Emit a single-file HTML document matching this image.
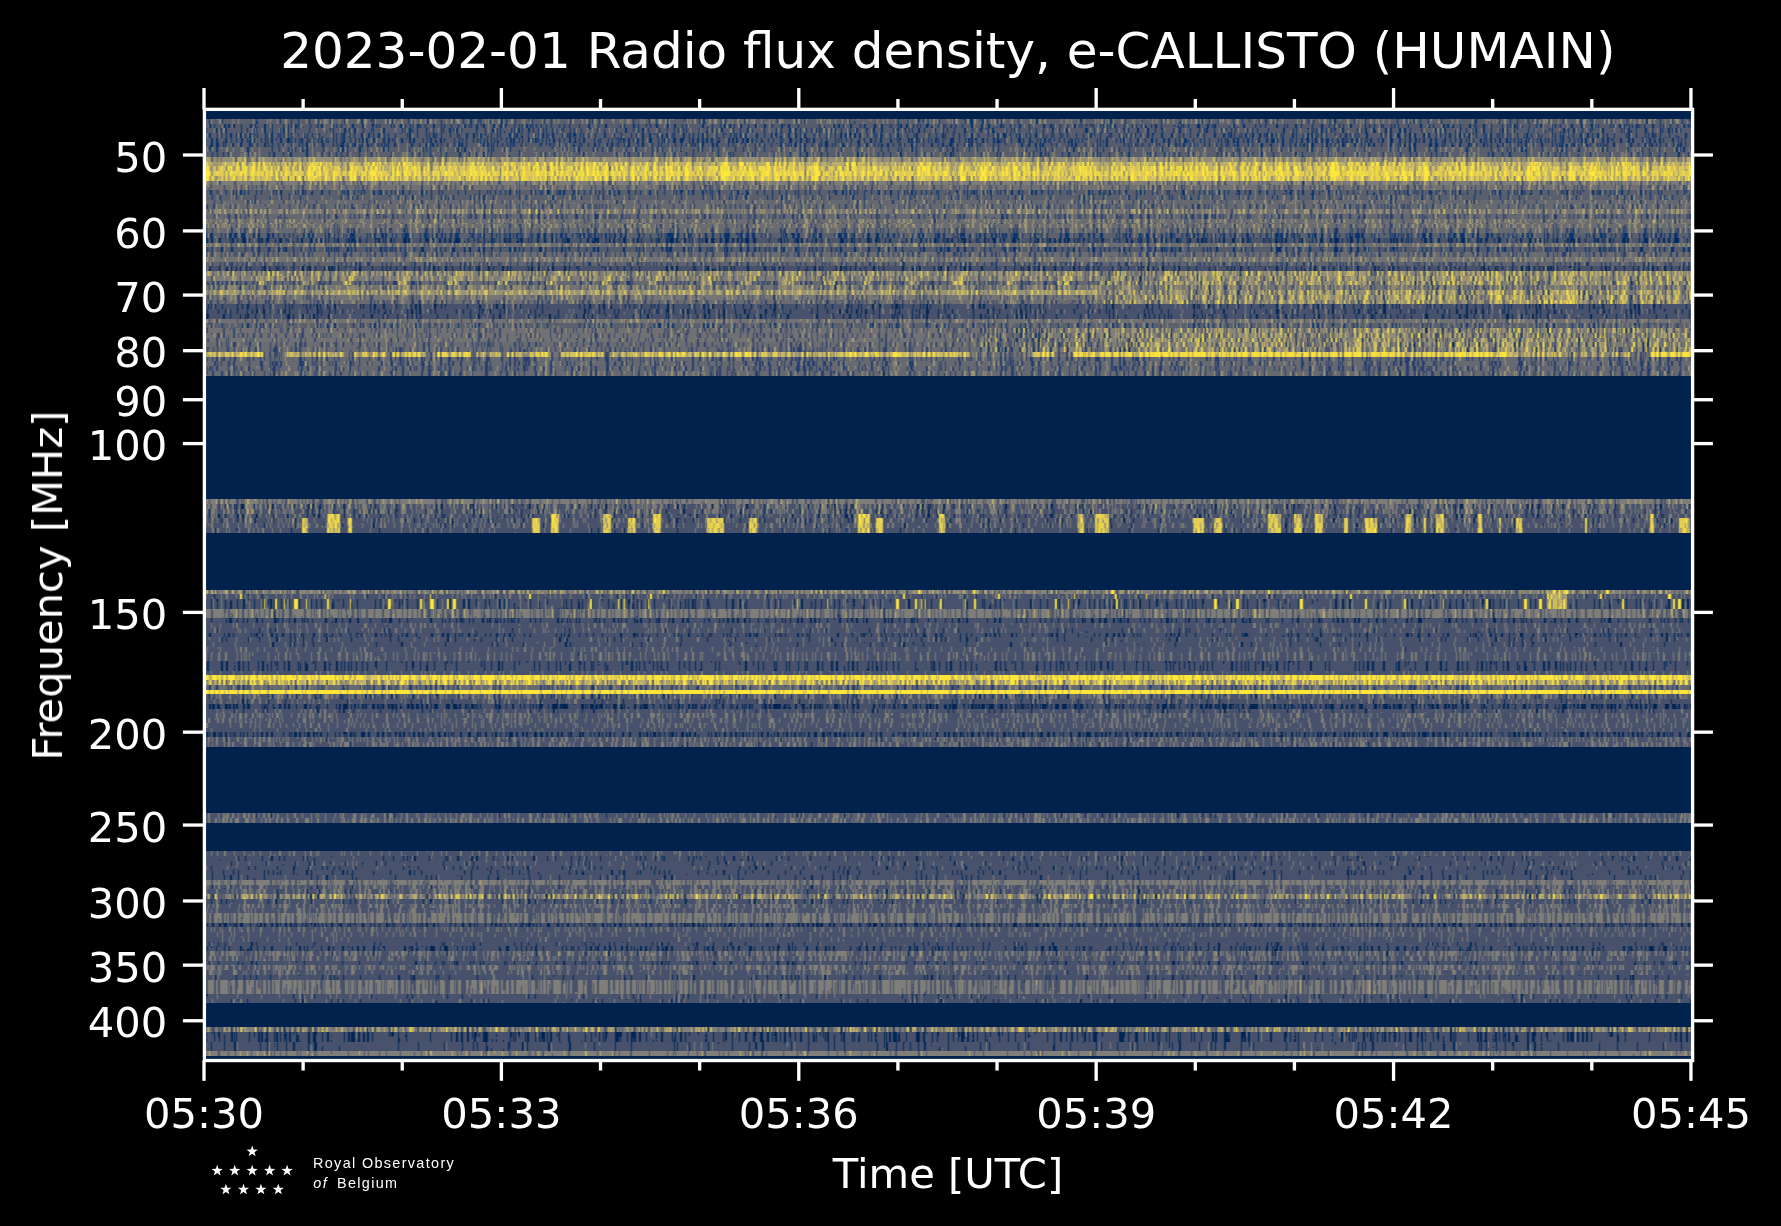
<!DOCTYPE html>
<html><head><meta charset="utf-8"><title>e-CALLISTO HUMAIN 2023-02-01</title>
<style>html,body{margin:0;padding:0;background:#000;}body{width:1781px;height:1226px;overflow:hidden;}svg{display:block;}</style>
</head><body>
<svg width="1781" height="1226" viewBox="0 0 1781 1226">
<defs><filter id="sp" filterUnits="userSpaceOnUse" x="200" y="109.35" width="2520" height="951.2" color-interpolation-filters="sRGB">
<feTurbulence type="fractalNoise" baseFrequency="0.42 0" numOctaves="3" seed="7" result="t"/>
<feColorMatrix in="t" type="matrix" values="1 0 0 0 0 1 0 0 0 0 1 0 0 0 0 0 0 0 0 1" result="g"/>
<feColorMatrix in="SourceGraphic" type="matrix" values="0 0 0 1 0 0 0 0 0 0.5 0 0 0 0 0 0 0 0 0 1" result="dm"/>
<feDisplacementMap in="g" in2="dm" scale="2000" xChannelSelector="R" yChannelSelector="G" result="n0"/>
<feTurbulence type="fractalNoise" baseFrequency="0.42 0.015" numOctaves="2" seed="11" result="t2"/>
<feColorMatrix in="t2" type="matrix" values="1 0 0 0 0 1 0 0 0 0 1 0 0 0 0 0 0 0 0 1" result="g2"/>
<feComposite in="n0" in2="g2" operator="arithmetic" k1="0" k2="0.75" k3="0.45" k4="-0.1" result="n"/>
<feColorMatrix in="SourceGraphic" type="matrix" values="0 1 0 0 0 0 1 0 0 0 0 1 0 0 0 0 0 0 0 1" result="amp"/>
<feColorMatrix in="SourceGraphic" type="matrix" values="0 0 1 0 0 0 0 1 0 0 0 0 1 0 0 0 0 0 0 1" result="bias"/>
<feComposite in="amp" in2="n" operator="arithmetic" k1="2.0" k2="-1.0" k3="0" k4="0.5" result="p1"/>
<feComposite in="p1" in2="bias" operator="arithmetic" k1="0" k2="1" k3="1" k4="-0.5" result="p2"/>
<feComponentTransfer in="p2" result="q"><feFuncR type="discrete" tableValues="0 0.25 0.5 0.75 1"/><feFuncG type="discrete" tableValues="0 0.25 0.5 0.75 1"/><feFuncB type="discrete" tableValues="0 0.25 0.5 0.75 1"/></feComponentTransfer>
<feColorMatrix in="SourceGraphic" type="matrix" values="1 0 0 0 0 1 0 0 0 0 1 0 0 0 0 0 0 0 0 1" result="mean"/>
<feComposite in="mean" in2="q" operator="arithmetic" k1="0" k2="1" k3="1" k4="-0.5" result="val"/>
<feComponentTransfer in="val" result="c"><feFuncR type="table" tableValues="0.000 0.000 0.000 0.018 0.103 0.154 0.195 0.231 0.264 0.295 0.324 0.353 0.381 0.408 0.435 0.462 0.489 0.518 0.548 0.578 0.609 0.640 0.672 0.704 0.736 0.769 0.803 0.836 0.871 0.906 0.941 0.978 0.996"/><feFuncG type="table" tableValues="0.135 0.158 0.179 0.199 0.220 0.242 0.264 0.286 0.308 0.330 0.351 0.373 0.395 0.417 0.440 0.462 0.485 0.508 0.532 0.556 0.580 0.604 0.629 0.655 0.681 0.707 0.734 0.761 0.790 0.818 0.848 0.877 0.909"/><feFuncB type="table" tableValues="0.305 0.358 0.415 0.441 0.436 0.430 0.426 0.423 0.423 0.424 0.426 0.430 0.436 0.443 0.451 0.462 0.471 0.473 0.472 0.469 0.464 0.457 0.448 0.437 0.424 0.409 0.390 0.369 0.343 0.313 0.276 0.228 0.218"/><feFuncA type="identity"/></feComponentTransfer>
<feConvolveMatrix in="c" order="3 1" kernelMatrix="0.2 0.6 0.2" divisor="1" preserveAlpha="true" edgeMode="duplicate" result="cb"/>
<feComponentTransfer in="SourceAlpha" result="mask"><feFuncA type="linear" slope="100" intercept="0"/></feComponentTransfer>
<feComposite in="cb" in2="mask" operator="in"/>
</filter><filter id="ga" x="-0.02" y="-0.02" width="1.04" height="1.04"><feOffset dx="0" dy="0"/></filter></defs>
<rect width="1781" height="1226" fill="#000"/>
<g filter="url(#sp)" shape-rendering="crispEdges">
<rect x="204.4" y="109.35" width="1488.2" height="4.76" fill="rgb(0,0,128)" fill-opacity="0.757"/><rect x="204.4" y="114.11" width="1488.2" height="4.76" fill="rgb(0,0,128)" fill-opacity="0.914"/><rect x="204.4" y="118.86" width="1488.2" height="4.76" fill="rgb(89,128,133)" fill-opacity="0.553"/><rect x="204.4" y="123.62" width="1488.2" height="4.76" fill="rgb(84,115,117)" fill-opacity="0.957"/><rect x="204.4" y="128.37" width="1488.2" height="4.76" fill="rgb(84,128,122)" fill-opacity="0.961"/><rect x="204.4" y="133.13" width="1488.2" height="4.76" fill="rgb(84,128,117)" fill-opacity="0.949"/><rect x="204.4" y="137.89" width="1488.2" height="4.76" fill="rgb(84,115,112)" fill-opacity="0.698"/><rect x="204.4" y="142.64" width="1488.2" height="4.76" fill="rgb(84,128,117)" fill-opacity="0.976"/><rect x="204.4" y="147.4" width="1488.2" height="4.76" fill="rgb(87,115,128)" fill-opacity="0.733"/><rect x="204.4" y="152.15" width="1488.2" height="4.76" fill="rgb(87,115,128)" fill-opacity="0.643"/><rect x="204.4" y="156.91" width="1488.2" height="4.76" fill="rgb(153,128,128)" fill-opacity="0.682"/><rect x="204.4" y="161.67" width="1488.2" height="4.76" fill="rgb(191,153,133)" fill-opacity="0.831"/><rect x="204.4" y="166.42" width="1488.2" height="4.76" fill="rgb(217,191,133)" fill-opacity="0.765"/><rect x="204.4" y="171.18" width="1488.2" height="4.76" fill="rgb(224,166,138)" fill-opacity="0.627"/><rect x="204.4" y="175.93" width="1488.2" height="4.76" fill="rgb(212,191,133)" fill-opacity="0.733"/><rect x="204.4" y="180.69" width="1488.2" height="4.76" fill="rgb(128,115,122)" fill-opacity="0.608"/><rect x="204.4" y="185.45" width="1488.2" height="4.76" fill="rgb(115,115,122)" fill-opacity="0.984"/><rect x="204.4" y="190.2" width="1488.2" height="4.76" fill="rgb(89,115,117)" fill-opacity="0.765"/><rect x="204.4" y="194.96" width="1488.2" height="4.76" fill="rgb(89,115,128)" fill-opacity="0.678"/><rect x="204.4" y="199.71" width="1488.2" height="4.76" fill="rgb(102,115,128)" fill-opacity="0.827"/><rect x="204.4" y="204.47" width="1488.2" height="4.76" fill="rgb(102,128,122)" fill-opacity="0.863"/><rect x="204.4" y="209.23" width="1488.2" height="4.76" fill="rgb(115,153,138)" fill-opacity="0.635"/><rect x="204.4" y="213.98" width="1488.2" height="4.76" fill="rgb(102,115,117)" fill-opacity="0.855"/><rect x="204.4" y="218.74" width="1488.2" height="4.76" fill="rgb(107,115,133)" fill-opacity="0.824"/><rect x="204.4" y="223.49" width="1488.2" height="4.76" fill="rgb(107,115,133)" fill-opacity="0.639"/><rect x="204.4" y="228.25" width="1488.2" height="4.76" fill="rgb(102,128,122)" fill-opacity="0.725"/><rect x="204.4" y="233.01" width="1488.2" height="4.76" fill="rgb(89,115,112)" fill-opacity="0.918"/><rect x="204.4" y="237.76" width="1488.2" height="4.76" fill="rgb(76,115,112)" fill-opacity="0.914"/><rect x="204.4" y="242.52" width="1488.2" height="4.76" fill="rgb(107,115,133)" fill-opacity="0.592"/><rect x="204.4" y="247.27" width="1488.2" height="4.76" fill="rgb(82,115,117)" fill-opacity="0.812"/><rect x="204.4" y="252.03" width="1488.2" height="4.76" fill="rgb(107,115,117)" fill-opacity="0.918"/><rect x="204.4" y="256.79" width="1488.2" height="4.76" fill="rgb(115,115,133)" fill-opacity="0.753"/><rect x="204.4" y="261.54" width="1488.2" height="4.76" fill="rgb(97,115,117)" fill-opacity="0.839"/><rect x="204.4" y="266.3" width="1488.2" height="4.76" fill="rgb(69,115,117)" fill-opacity="0.800"/><rect x="204.4" y="271.05" width="5.6" height="4.76" fill="rgb(128,191,133)" fill-opacity="0.631"/><rect x="210" y="271.05" width="7.52" height="4.76" fill="rgb(163,217,128)" fill-opacity="0.631"/><rect x="217.52" y="271.05" width="47.51" height="4.76" fill="rgb(128,191,133)" fill-opacity="0.631"/><rect x="265.03" y="271.05" width="11.33" height="4.76" fill="rgb(163,217,128)" fill-opacity="0.631"/><rect x="276.36" y="271.05" width="35.01" height="4.76" fill="rgb(128,191,133)" fill-opacity="0.631"/><rect x="311.37" y="271.05" width="11.46" height="4.76" fill="rgb(163,217,128)" fill-opacity="0.631"/><rect x="322.83" y="271.05" width="28.07" height="4.76" fill="rgb(128,191,133)" fill-opacity="0.631"/><rect x="350.9" y="271.05" width="7.95" height="4.76" fill="rgb(163,217,128)" fill-opacity="0.631"/><rect x="358.85" y="271.05" width="47.92" height="4.76" fill="rgb(128,191,133)" fill-opacity="0.631"/><rect x="406.77" y="271.05" width="7.17" height="4.76" fill="rgb(163,217,128)" fill-opacity="0.631"/><rect x="413.94" y="271.05" width="41.47" height="4.76" fill="rgb(128,191,133)" fill-opacity="0.631"/><rect x="455.41" y="271.05" width="9.79" height="4.76" fill="rgb(163,217,128)" fill-opacity="0.631"/><rect x="465.2" y="271.05" width="40.01" height="4.76" fill="rgb(128,191,133)" fill-opacity="0.631"/><rect x="505.21" y="271.05" width="10.67" height="4.76" fill="rgb(163,217,128)" fill-opacity="0.631"/><rect x="515.88" y="271.05" width="38.06" height="4.76" fill="rgb(128,191,133)" fill-opacity="0.631"/><rect x="553.94" y="271.05" width="9.85" height="4.76" fill="rgb(163,217,128)" fill-opacity="0.631"/><rect x="563.78" y="271.05" width="45.03" height="4.76" fill="rgb(128,191,133)" fill-opacity="0.631"/><rect x="608.81" y="271.05" width="7.94" height="4.76" fill="rgb(163,217,128)" fill-opacity="0.631"/><rect x="616.75" y="271.05" width="39.93" height="4.76" fill="rgb(128,191,133)" fill-opacity="0.631"/><rect x="656.68" y="271.05" width="7.13" height="4.76" fill="rgb(163,217,128)" fill-opacity="0.631"/><rect x="663.81" y="271.05" width="45.26" height="4.76" fill="rgb(128,191,133)" fill-opacity="0.631"/><rect x="709.07" y="271.05" width="11.36" height="4.76" fill="rgb(163,217,128)" fill-opacity="0.631"/><rect x="720.43" y="271.05" width="28.49" height="4.76" fill="rgb(128,191,133)" fill-opacity="0.631"/><rect x="748.92" y="271.05" width="11.5" height="4.76" fill="rgb(163,217,128)" fill-opacity="0.631"/><rect x="760.42" y="271.05" width="29.01" height="4.76" fill="rgb(128,191,133)" fill-opacity="0.631"/><rect x="789.43" y="271.05" width="12.92" height="4.76" fill="rgb(163,217,128)" fill-opacity="0.631"/><rect x="802.35" y="271.05" width="28.59" height="4.76" fill="rgb(128,191,133)" fill-opacity="0.631"/><rect x="830.93" y="271.05" width="12.24" height="4.76" fill="rgb(163,217,128)" fill-opacity="0.631"/><rect x="843.18" y="271.05" width="26.26" height="4.76" fill="rgb(128,191,133)" fill-opacity="0.631"/><rect x="869.44" y="271.05" width="8.28" height="4.76" fill="rgb(163,217,128)" fill-opacity="0.631"/><rect x="877.71" y="271.05" width="38.74" height="4.76" fill="rgb(128,191,133)" fill-opacity="0.631"/><rect x="916.46" y="271.05" width="11.58" height="4.76" fill="rgb(163,217,128)" fill-opacity="0.631"/><rect x="928.04" y="271.05" width="32.29" height="4.76" fill="rgb(128,191,133)" fill-opacity="0.631"/><rect x="960.33" y="271.05" width="10.27" height="4.76" fill="rgb(163,217,128)" fill-opacity="0.631"/><rect x="970.59" y="271.05" width="42.75" height="4.76" fill="rgb(128,191,133)" fill-opacity="0.631"/><rect x="1013.34" y="271.05" width="7.37" height="4.76" fill="rgb(163,217,128)" fill-opacity="0.631"/><rect x="1020.71" y="271.05" width="43.95" height="4.76" fill="rgb(128,191,133)" fill-opacity="0.631"/><rect x="1064.66" y="271.05" width="12.39" height="4.76" fill="rgb(163,217,128)" fill-opacity="0.631"/><rect x="1077.05" y="271.05" width="22.95" height="4.76" fill="rgb(128,191,133)" fill-opacity="0.631"/><rect x="1100" y="271.05" width="14.58" height="4.76" fill="rgb(110,217,133)" fill-opacity="0.631"/><rect x="1114.58" y="271.05" width="11.89" height="4.76" fill="rgb(163,217,128)" fill-opacity="0.631"/><rect x="1126.47" y="271.05" width="19.85" height="4.76" fill="rgb(110,217,133)" fill-opacity="0.631"/><rect x="1146.33" y="271.05" width="15.56" height="4.76" fill="rgb(128,217,133)" fill-opacity="0.631"/><rect x="1161.89" y="271.05" width="11.96" height="4.76" fill="rgb(163,217,128)" fill-opacity="0.631"/><rect x="1173.85" y="271.05" width="11.45" height="4.76" fill="rgb(128,217,133)" fill-opacity="0.631"/><rect x="1185.3" y="271.05" width="30.4" height="4.76" fill="rgb(143,217,133)" fill-opacity="0.631"/><rect x="1215.69" y="271.05" width="7.78" height="4.76" fill="rgb(163,217,128)" fill-opacity="0.631"/><rect x="1223.48" y="271.05" width="21.14" height="4.76" fill="rgb(143,217,133)" fill-opacity="0.631"/><rect x="1244.62" y="271.05" width="11.81" height="4.76" fill="rgb(127,217,133)" fill-opacity="0.631"/><rect x="1256.43" y="271.05" width="10.06" height="4.76" fill="rgb(163,217,128)" fill-opacity="0.631"/><rect x="1266.49" y="271.05" width="3.33" height="4.76" fill="rgb(127,217,133)" fill-opacity="0.631"/><rect x="1269.82" y="271.05" width="27.57" height="4.76" fill="rgb(128,217,133)" fill-opacity="0.631"/><rect x="1297.39" y="271.05" width="12.74" height="4.76" fill="rgb(157,217,133)" fill-opacity="0.631"/><rect x="1310.14" y="271.05" width="11.66" height="4.76" fill="rgb(163,217,128)" fill-opacity="0.631"/><rect x="1321.8" y="271.05" width="32.76" height="4.76" fill="rgb(157,217,133)" fill-opacity="0.631"/><rect x="1354.56" y="271.05" width="4.53" height="4.76" fill="rgb(122,217,133)" fill-opacity="0.631"/><rect x="1359.09" y="271.05" width="11.66" height="4.76" fill="rgb(163,217,128)" fill-opacity="0.631"/><rect x="1370.75" y="271.05" width="9.02" height="4.76" fill="rgb(122,217,133)" fill-opacity="0.631"/><rect x="1379.77" y="271.05" width="20.02" height="4.76" fill="rgb(141,217,133)" fill-opacity="0.631"/><rect x="1399.79" y="271.05" width="7.85" height="4.76" fill="rgb(163,217,128)" fill-opacity="0.631"/><rect x="1407.64" y="271.05" width="24.95" height="4.76" fill="rgb(141,217,133)" fill-opacity="0.631"/><rect x="1432.59" y="271.05" width="16.34" height="4.76" fill="rgb(159,217,133)" fill-opacity="0.631"/><rect x="1448.93" y="271.05" width="7.72" height="4.76" fill="rgb(163,217,128)" fill-opacity="0.631"/><rect x="1456.65" y="271.05" width="20.66" height="4.76" fill="rgb(159,217,133)" fill-opacity="0.631"/><rect x="1477.31" y="271.05" width="10.73" height="4.76" fill="rgb(146,217,133)" fill-opacity="0.631"/><rect x="1488.04" y="271.05" width="11.09" height="4.76" fill="rgb(163,217,128)" fill-opacity="0.631"/><rect x="1499.14" y="271.05" width="1.21" height="4.76" fill="rgb(146,217,133)" fill-opacity="0.631"/><rect x="1500.35" y="271.05" width="32.81" height="4.76" fill="rgb(146,217,133)" fill-opacity="0.631"/><rect x="1533.16" y="271.05" width="2.44" height="4.76" fill="rgb(138,217,133)" fill-opacity="0.631"/><rect x="1535.6" y="271.05" width="9.89" height="4.76" fill="rgb(163,217,128)" fill-opacity="0.631"/><rect x="1545.49" y="271.05" width="8.39" height="4.76" fill="rgb(138,217,133)" fill-opacity="0.631"/><rect x="1553.88" y="271.05" width="33.7" height="4.76" fill="rgb(158,217,133)" fill-opacity="0.631"/><rect x="1587.57" y="271.05" width="12.3" height="4.76" fill="rgb(163,217,128)" fill-opacity="0.631"/><rect x="1599.87" y="271.05" width="6.2" height="4.76" fill="rgb(158,217,133)" fill-opacity="0.631"/><rect x="1606.07" y="271.05" width="20.52" height="4.76" fill="rgb(135,217,133)" fill-opacity="0.631"/><rect x="1626.6" y="271.05" width="8.15" height="4.76" fill="rgb(163,217,128)" fill-opacity="0.631"/><rect x="1634.74" y="271.05" width="30.61" height="4.76" fill="rgb(146,217,133)" fill-opacity="0.631"/><rect x="1665.35" y="271.05" width="7.59" height="4.76" fill="rgb(163,217,128)" fill-opacity="0.631"/><rect x="1672.94" y="271.05" width="11.04" height="4.76" fill="rgb(146,217,133)" fill-opacity="0.631"/><rect x="1683.98" y="271.05" width="8.62" height="4.76" fill="rgb(129,217,133)" fill-opacity="0.631"/><rect x="204.4" y="275.81" width="56.63" height="4.76" fill="rgb(128,153,133)" fill-opacity="0.620"/><rect x="261.03" y="275.81" width="11.33" height="4.76" fill="rgb(163,217,128)" fill-opacity="0.620"/><rect x="272.36" y="275.81" width="35.01" height="4.76" fill="rgb(128,153,133)" fill-opacity="0.620"/><rect x="307.37" y="275.81" width="11.46" height="4.76" fill="rgb(163,217,128)" fill-opacity="0.620"/><rect x="318.83" y="275.81" width="28.07" height="4.76" fill="rgb(128,153,133)" fill-opacity="0.620"/><rect x="346.9" y="275.81" width="7.95" height="4.76" fill="rgb(163,217,128)" fill-opacity="0.620"/><rect x="354.85" y="275.81" width="47.92" height="4.76" fill="rgb(128,153,133)" fill-opacity="0.620"/><rect x="402.77" y="275.81" width="7.17" height="4.76" fill="rgb(163,217,128)" fill-opacity="0.620"/><rect x="409.94" y="275.81" width="41.47" height="4.76" fill="rgb(128,153,133)" fill-opacity="0.620"/><rect x="451.41" y="275.81" width="9.79" height="4.76" fill="rgb(163,217,128)" fill-opacity="0.620"/><rect x="461.2" y="275.81" width="40.01" height="4.76" fill="rgb(128,153,133)" fill-opacity="0.620"/><rect x="501.21" y="275.81" width="10.67" height="4.76" fill="rgb(163,217,128)" fill-opacity="0.620"/><rect x="511.88" y="275.81" width="38.06" height="4.76" fill="rgb(128,153,133)" fill-opacity="0.620"/><rect x="549.94" y="275.81" width="9.85" height="4.76" fill="rgb(163,217,128)" fill-opacity="0.620"/><rect x="559.78" y="275.81" width="45.03" height="4.76" fill="rgb(128,153,133)" fill-opacity="0.620"/><rect x="604.81" y="275.81" width="7.94" height="4.76" fill="rgb(163,217,128)" fill-opacity="0.620"/><rect x="612.75" y="275.81" width="39.93" height="4.76" fill="rgb(128,153,133)" fill-opacity="0.620"/><rect x="652.68" y="275.81" width="7.13" height="4.76" fill="rgb(163,217,128)" fill-opacity="0.620"/><rect x="659.81" y="275.81" width="45.26" height="4.76" fill="rgb(128,153,133)" fill-opacity="0.620"/><rect x="705.07" y="275.81" width="11.36" height="4.76" fill="rgb(163,217,128)" fill-opacity="0.620"/><rect x="716.43" y="275.81" width="28.49" height="4.76" fill="rgb(128,153,133)" fill-opacity="0.620"/><rect x="744.92" y="275.81" width="11.5" height="4.76" fill="rgb(163,217,128)" fill-opacity="0.620"/><rect x="756.42" y="275.81" width="29.01" height="4.76" fill="rgb(128,153,133)" fill-opacity="0.620"/><rect x="785.43" y="275.81" width="12.92" height="4.76" fill="rgb(163,217,128)" fill-opacity="0.620"/><rect x="798.35" y="275.81" width="28.59" height="4.76" fill="rgb(128,153,133)" fill-opacity="0.620"/><rect x="826.93" y="275.81" width="12.24" height="4.76" fill="rgb(163,217,128)" fill-opacity="0.620"/><rect x="839.18" y="275.81" width="26.26" height="4.76" fill="rgb(128,153,133)" fill-opacity="0.620"/><rect x="865.44" y="275.81" width="8.28" height="4.76" fill="rgb(163,217,128)" fill-opacity="0.620"/><rect x="873.71" y="275.81" width="38.74" height="4.76" fill="rgb(128,153,133)" fill-opacity="0.620"/><rect x="912.46" y="275.81" width="11.58" height="4.76" fill="rgb(163,217,128)" fill-opacity="0.620"/><rect x="924.04" y="275.81" width="32.29" height="4.76" fill="rgb(128,153,133)" fill-opacity="0.620"/><rect x="956.33" y="275.81" width="10.27" height="4.76" fill="rgb(163,217,128)" fill-opacity="0.620"/><rect x="966.59" y="275.81" width="42.75" height="4.76" fill="rgb(128,153,133)" fill-opacity="0.620"/><rect x="1009.34" y="275.81" width="7.37" height="4.76" fill="rgb(163,217,128)" fill-opacity="0.620"/><rect x="1016.71" y="275.81" width="43.95" height="4.76" fill="rgb(128,153,133)" fill-opacity="0.620"/><rect x="1060.66" y="275.81" width="12.39" height="4.76" fill="rgb(163,217,128)" fill-opacity="0.620"/><rect x="1073.05" y="275.81" width="26.95" height="4.76" fill="rgb(128,153,133)" fill-opacity="0.620"/><rect x="1100" y="275.81" width="10.58" height="4.76" fill="rgb(106,217,133)" fill-opacity="0.620"/><rect x="1110.58" y="275.81" width="11.89" height="4.76" fill="rgb(163,217,128)" fill-opacity="0.620"/><rect x="1122.47" y="275.81" width="23.85" height="4.76" fill="rgb(106,217,133)" fill-opacity="0.620"/><rect x="1146.33" y="275.81" width="11.56" height="4.76" fill="rgb(126,217,133)" fill-opacity="0.620"/><rect x="1157.89" y="275.81" width="11.96" height="4.76" fill="rgb(163,217,128)" fill-opacity="0.620"/><rect x="1169.85" y="275.81" width="15.45" height="4.76" fill="rgb(126,217,133)" fill-opacity="0.620"/><rect x="1185.3" y="275.81" width="26.4" height="4.76" fill="rgb(143,217,133)" fill-opacity="0.620"/><rect x="1211.69" y="275.81" width="7.78" height="4.76" fill="rgb(163,217,128)" fill-opacity="0.620"/><rect x="1219.48" y="275.81" width="25.14" height="4.76" fill="rgb(143,217,133)" fill-opacity="0.620"/><rect x="1244.62" y="275.81" width="7.81" height="4.76" fill="rgb(121,217,133)" fill-opacity="0.620"/><rect x="1252.43" y="275.81" width="10.06" height="4.76" fill="rgb(163,217,128)" fill-opacity="0.620"/><rect x="1262.49" y="275.81" width="7.33" height="4.76" fill="rgb(121,217,133)" fill-opacity="0.620"/><rect x="1269.82" y="275.81" width="27.57" height="4.76" fill="rgb(133,217,133)" fill-opacity="0.620"/><rect x="1297.39" y="275.81" width="8.74" height="4.76" fill="rgb(145,217,133)" fill-opacity="0.620"/><rect x="1306.14" y="275.81" width="11.66" height="4.76" fill="rgb(163,217,128)" fill-opacity="0.620"/><rect x="1317.8" y="275.81" width="36.76" height="4.76" fill="rgb(145,217,133)" fill-opacity="0.620"/><rect x="1354.56" y="275.81" width="0.53" height="4.76" fill="rgb(130,217,133)" fill-opacity="0.620"/><rect x="1355.09" y="275.81" width="11.66" height="4.76" fill="rgb(163,217,128)" fill-opacity="0.620"/><rect x="1366.75" y="275.81" width="13.02" height="4.76" fill="rgb(130,217,133)" fill-opacity="0.620"/><rect x="1379.77" y="275.81" width="16.02" height="4.76" fill="rgb(144,217,133)" fill-opacity="0.620"/><rect x="1395.79" y="275.81" width="7.85" height="4.76" fill="rgb(163,217,128)" fill-opacity="0.620"/><rect x="1403.64" y="275.81" width="28.95" height="4.76" fill="rgb(144,217,133)" fill-opacity="0.620"/><rect x="1432.59" y="275.81" width="12.34" height="4.76" fill="rgb(158,217,133)" fill-opacity="0.620"/><rect x="1444.93" y="275.81" width="7.72" height="4.76" fill="rgb(163,217,128)" fill-opacity="0.620"/><rect x="1452.65" y="275.81" width="24.66" height="4.76" fill="rgb(158,217,133)" fill-opacity="0.620"/><rect x="1477.31" y="275.81" width="6.73" height="4.76" fill="rgb(155,217,133)" fill-opacity="0.620"/><rect x="1484.04" y="275.81" width="11.09" height="4.76" fill="rgb(163,217,128)" fill-opacity="0.620"/><rect x="1495.14" y="275.81" width="5.21" height="4.76" fill="rgb(155,217,133)" fill-opacity="0.620"/><rect x="1500.35" y="275.81" width="31.25" height="4.76" fill="rgb(142,217,133)" fill-opacity="0.620"/><rect x="1531.6" y="275.81" width="9.89" height="4.76" fill="rgb(163,217,128)" fill-opacity="0.620"/><rect x="1541.49" y="275.81" width="12.39" height="4.76" fill="rgb(136,217,133)" fill-opacity="0.620"/><rect x="1553.88" y="275.81" width="29.7" height="4.76" fill="rgb(152,217,133)" fill-opacity="0.620"/><rect x="1583.57" y="275.81" width="12.3" height="4.76" fill="rgb(163,217,128)" fill-opacity="0.620"/><rect x="1595.87" y="275.81" width="10.2" height="4.76" fill="rgb(152,217,133)" fill-opacity="0.620"/><rect x="1606.07" y="275.81" width="16.52" height="4.76" fill="rgb(128,217,133)" fill-opacity="0.620"/><rect x="1622.6" y="275.81" width="8.15" height="4.76" fill="rgb(163,217,128)" fill-opacity="0.620"/><rect x="1630.74" y="275.81" width="30.61" height="4.76" fill="rgb(145,217,133)" fill-opacity="0.620"/><rect x="1661.35" y="275.81" width="7.59" height="4.76" fill="rgb(163,217,128)" fill-opacity="0.620"/><rect x="1668.94" y="275.81" width="15.04" height="4.76" fill="rgb(145,217,133)" fill-opacity="0.620"/><rect x="1683.98" y="275.81" width="8.62" height="4.76" fill="rgb(136,217,133)" fill-opacity="0.620"/><rect x="204.4" y="280.57" width="52.63" height="4.76" fill="rgb(102,115,117)" fill-opacity="0.651"/><rect x="257.03" y="280.57" width="11.33" height="4.76" fill="rgb(163,217,128)" fill-opacity="0.651"/><rect x="268.36" y="280.57" width="35.01" height="4.76" fill="rgb(102,115,117)" fill-opacity="0.651"/><rect x="303.37" y="280.57" width="11.46" height="4.76" fill="rgb(163,217,128)" fill-opacity="0.651"/><rect x="314.83" y="280.57" width="28.07" height="4.76" fill="rgb(102,115,117)" fill-opacity="0.651"/><rect x="342.9" y="280.57" width="7.95" height="4.76" fill="rgb(163,217,128)" fill-opacity="0.651"/><rect x="350.85" y="280.57" width="47.92" height="4.76" fill="rgb(102,115,117)" fill-opacity="0.651"/><rect x="398.77" y="280.57" width="7.17" height="4.76" fill="rgb(163,217,128)" fill-opacity="0.651"/><rect x="405.94" y="280.57" width="41.47" height="4.76" fill="rgb(102,115,117)" fill-opacity="0.651"/><rect x="447.41" y="280.57" width="9.79" height="4.76" fill="rgb(163,217,128)" fill-opacity="0.651"/><rect x="457.2" y="280.57" width="40.01" height="4.76" fill="rgb(102,115,117)" fill-opacity="0.651"/><rect x="497.21" y="280.57" width="10.67" height="4.76" fill="rgb(163,217,128)" fill-opacity="0.651"/><rect x="507.88" y="280.57" width="38.06" height="4.76" fill="rgb(102,115,117)" fill-opacity="0.651"/><rect x="545.94" y="280.57" width="9.85" height="4.76" fill="rgb(163,217,128)" fill-opacity="0.651"/><rect x="555.78" y="280.57" width="45.03" height="4.76" fill="rgb(102,115,117)" fill-opacity="0.651"/><rect x="600.81" y="280.57" width="7.94" height="4.76" fill="rgb(163,217,128)" fill-opacity="0.651"/><rect x="608.75" y="280.57" width="39.93" height="4.76" fill="rgb(102,115,117)" fill-opacity="0.651"/><rect x="648.68" y="280.57" width="7.13" height="4.76" fill="rgb(163,217,128)" fill-opacity="0.651"/><rect x="655.81" y="280.57" width="45.26" height="4.76" fill="rgb(102,115,117)" fill-opacity="0.651"/><rect x="701.07" y="280.57" width="11.36" height="4.76" fill="rgb(163,217,128)" fill-opacity="0.651"/><rect x="712.43" y="280.57" width="28.49" height="4.76" fill="rgb(102,115,117)" fill-opacity="0.651"/><rect x="740.92" y="280.57" width="11.5" height="4.76" fill="rgb(163,217,128)" fill-opacity="0.651"/><rect x="752.42" y="280.57" width="29.01" height="4.76" fill="rgb(102,115,117)" fill-opacity="0.651"/><rect x="781.43" y="280.57" width="12.92" height="4.76" fill="rgb(163,217,128)" fill-opacity="0.651"/><rect x="794.35" y="280.57" width="28.59" height="4.76" fill="rgb(102,115,117)" fill-opacity="0.651"/><rect x="822.93" y="280.57" width="12.24" height="4.76" fill="rgb(163,217,128)" fill-opacity="0.651"/><rect x="835.18" y="280.57" width="26.26" height="4.76" fill="rgb(102,115,117)" fill-opacity="0.651"/><rect x="861.44" y="280.57" width="8.28" height="4.76" fill="rgb(163,217,128)" fill-opacity="0.651"/><rect x="869.71" y="280.57" width="38.74" height="4.76" fill="rgb(102,115,117)" fill-opacity="0.651"/><rect x="908.46" y="280.57" width="11.58" height="4.76" fill="rgb(163,217,128)" fill-opacity="0.651"/><rect x="920.04" y="280.57" width="32.29" height="4.76" fill="rgb(102,115,117)" fill-opacity="0.651"/><rect x="952.33" y="280.57" width="10.27" height="4.76" fill="rgb(163,217,128)" fill-opacity="0.651"/><rect x="962.59" y="280.57" width="42.75" height="4.76" fill="rgb(102,115,117)" fill-opacity="0.651"/><rect x="1005.34" y="280.57" width="7.37" height="4.76" fill="rgb(163,217,128)" fill-opacity="0.651"/><rect x="1012.71" y="280.57" width="43.95" height="4.76" fill="rgb(102,115,117)" fill-opacity="0.651"/><rect x="1056.66" y="280.57" width="12.39" height="4.76" fill="rgb(163,217,128)" fill-opacity="0.651"/><rect x="1069.05" y="280.57" width="30.95" height="4.76" fill="rgb(102,115,117)" fill-opacity="0.651"/><rect x="1100" y="280.57" width="6.58" height="4.76" fill="rgb(118,217,133)" fill-opacity="0.651"/><rect x="1106.58" y="280.57" width="11.89" height="4.76" fill="rgb(163,217,128)" fill-opacity="0.651"/><rect x="1118.47" y="280.57" width="27.85" height="4.76" fill="rgb(118,217,133)" fill-opacity="0.651"/><rect x="1146.33" y="280.57" width="7.56" height="4.76" fill="rgb(138,217,133)" fill-opacity="0.651"/><rect x="1153.89" y="280.57" width="11.96" height="4.76" fill="rgb(163,217,128)" fill-opacity="0.651"/><rect x="1165.85" y="280.57" width="19.45" height="4.76" fill="rgb(138,217,133)" fill-opacity="0.651"/><rect x="1185.3" y="280.57" width="22.4" height="4.76" fill="rgb(141,217,133)" fill-opacity="0.651"/><rect x="1207.69" y="280.57" width="7.78" height="4.76" fill="rgb(163,217,128)" fill-opacity="0.651"/><rect x="1215.48" y="280.57" width="29.14" height="4.76" fill="rgb(141,217,133)" fill-opacity="0.651"/><rect x="1244.62" y="280.57" width="3.81" height="4.76" fill="rgb(121,217,133)" fill-opacity="0.651"/><rect x="1248.43" y="280.57" width="10.06" height="4.76" fill="rgb(163,217,128)" fill-opacity="0.651"/><rect x="1258.49" y="280.57" width="11.33" height="4.76" fill="rgb(121,217,133)" fill-opacity="0.651"/><rect x="1269.82" y="280.57" width="27.57" height="4.76" fill="rgb(123,217,133)" fill-opacity="0.651"/><rect x="1297.39" y="280.57" width="4.74" height="4.76" fill="rgb(143,217,133)" fill-opacity="0.651"/><rect x="1302.14" y="280.57" width="11.66" height="4.76" fill="rgb(163,217,128)" fill-opacity="0.651"/><rect x="1313.8" y="280.57" width="37.29" height="4.76" fill="rgb(143,217,133)" fill-opacity="0.651"/><rect x="1351.09" y="280.57" width="11.66" height="4.76" fill="rgb(163,217,128)" fill-opacity="0.651"/><rect x="1362.75" y="280.57" width="17.02" height="4.76" fill="rgb(136,217,133)" fill-opacity="0.651"/><rect x="1379.77" y="280.57" width="12.02" height="4.76" fill="rgb(130,217,133)" fill-opacity="0.651"/><rect x="1391.79" y="280.57" width="7.85" height="4.76" fill="rgb(163,217,128)" fill-opacity="0.651"/><rect x="1399.64" y="280.57" width="32.95" height="4.76" fill="rgb(130,217,133)" fill-opacity="0.651"/><rect x="1432.59" y="280.57" width="8.34" height="4.76" fill="rgb(152,217,133)" fill-opacity="0.651"/><rect x="1440.93" y="280.57" width="7.72" height="4.76" fill="rgb(163,217,128)" fill-opacity="0.651"/><rect x="1448.65" y="280.57" width="28.66" height="4.76" fill="rgb(152,217,133)" fill-opacity="0.651"/><rect x="1477.31" y="280.57" width="2.73" height="4.76" fill="rgb(159,217,133)" fill-opacity="0.651"/><rect x="1480.04" y="280.57" width="11.09" height="4.76" fill="rgb(163,217,128)" fill-opacity="0.651"/><rect x="1491.14" y="280.57" width="9.21" height="4.76" fill="rgb(159,217,133)" fill-opacity="0.651"/><rect x="1500.35" y="280.57" width="27.25" height="4.76" fill="rgb(131,217,133)" fill-opacity="0.651"/><rect x="1527.6" y="280.57" width="9.89" height="4.76" fill="rgb(163,217,128)" fill-opacity="0.651"/><rect x="1537.49" y="280.57" width="16.39" height="4.76" fill="rgb(122,217,133)" fill-opacity="0.651"/><rect x="1553.88" y="280.57" width="25.7" height="4.76" fill="rgb(156,217,133)" fill-opacity="0.651"/><rect x="1579.57" y="280.57" width="12.3" height="4.76" fill="rgb(163,217,128)" fill-opacity="0.651"/><rect x="1591.87" y="280.57" width="14.2" height="4.76" fill="rgb(156,217,133)" fill-opacity="0.651"/><rect x="1606.07" y="280.57" width="12.52" height="4.76" fill="rgb(126,217,133)" fill-opacity="0.651"/><rect x="1618.6" y="280.57" width="8.15" height="4.76" fill="rgb(163,217,128)" fill-opacity="0.651"/><rect x="1626.74" y="280.57" width="0.22" height="4.76" fill="rgb(126,217,133)" fill-opacity="0.651"/><rect x="1626.96" y="280.57" width="30.39" height="4.76" fill="rgb(132,217,133)" fill-opacity="0.651"/><rect x="1657.35" y="280.57" width="7.59" height="4.76" fill="rgb(163,217,128)" fill-opacity="0.651"/><rect x="1664.94" y="280.57" width="19.04" height="4.76" fill="rgb(132,217,133)" fill-opacity="0.651"/><rect x="1683.98" y="280.57" width="8.62" height="4.76" fill="rgb(129,217,133)" fill-opacity="0.651"/><rect x="204.4" y="285.32" width="1488.2" height="4.76" fill="rgb(115,153,133)" fill-opacity="0.910"/><rect x="204.4" y="290.08" width="895.6" height="4.76" fill="rgb(158,153,133)" fill-opacity="0.584"/><rect x="1100" y="290.08" width="33.86" height="4.76" fill="rgb(125,217,133)" fill-opacity="0.584"/><rect x="1133.86" y="290.08" width="41.25" height="4.76" fill="rgb(141,217,133)" fill-opacity="0.584"/><rect x="1175.11" y="290.08" width="38.93" height="4.76" fill="rgb(125,217,133)" fill-opacity="0.584"/><rect x="1214.04" y="290.08" width="15.18" height="4.76" fill="rgb(140,217,133)" fill-opacity="0.584"/><rect x="1229.22" y="290.08" width="40.04" height="4.76" fill="rgb(134,217,133)" fill-opacity="0.584"/><rect x="1269.26" y="290.08" width="19.77" height="4.76" fill="rgb(139,217,133)" fill-opacity="0.584"/><rect x="1289.03" y="290.08" width="37.85" height="4.76" fill="rgb(151,217,133)" fill-opacity="0.584"/><rect x="1326.88" y="290.08" width="42.56" height="4.76" fill="rgb(147,217,133)" fill-opacity="0.584"/><rect x="1369.44" y="290.08" width="39" height="4.76" fill="rgb(159,217,133)" fill-opacity="0.584"/><rect x="1408.44" y="290.08" width="57.4" height="4.76" fill="rgb(147,217,133)" fill-opacity="0.584"/><rect x="1465.84" y="290.08" width="21.17" height="4.76" fill="rgb(140,217,133)" fill-opacity="0.584"/><rect x="1487.01" y="290.08" width="18.29" height="4.76" fill="rgb(164,217,133)" fill-opacity="0.584"/><rect x="1505.3" y="290.08" width="47.23" height="4.76" fill="rgb(151,217,133)" fill-opacity="0.584"/><rect x="1552.53" y="290.08" width="24.88" height="4.76" fill="rgb(165,217,133)" fill-opacity="0.584"/><rect x="1577.41" y="290.08" width="52.46" height="4.76" fill="rgb(141,217,133)" fill-opacity="0.584"/><rect x="1629.87" y="290.08" width="23.81" height="4.76" fill="rgb(152,217,133)" fill-opacity="0.584"/><rect x="1653.68" y="290.08" width="34.82" height="4.76" fill="rgb(135,217,133)" fill-opacity="0.584"/><rect x="1688.5" y="290.08" width="4.1" height="4.76" fill="rgb(174,217,133)" fill-opacity="0.584"/><rect x="204.4" y="294.83" width="895.6" height="4.76" fill="rgb(120,115,122)" fill-opacity="0.643"/><rect x="1100" y="294.83" width="33.86" height="4.76" fill="rgb(113,217,133)" fill-opacity="0.643"/><rect x="1133.86" y="294.83" width="41.25" height="4.76" fill="rgb(151,217,133)" fill-opacity="0.643"/><rect x="1175.11" y="294.83" width="38.93" height="4.76" fill="rgb(133,217,133)" fill-opacity="0.643"/><rect x="1214.04" y="294.83" width="15.18" height="4.76" fill="rgb(146,217,133)" fill-opacity="0.643"/><rect x="1229.22" y="294.83" width="40.04" height="4.76" fill="rgb(134,217,133)" fill-opacity="0.643"/><rect x="1269.26" y="294.83" width="19.77" height="4.76" fill="rgb(139,217,133)" fill-opacity="0.643"/><rect x="1289.03" y="294.83" width="37.85" height="4.76" fill="rgb(154,217,133)" fill-opacity="0.643"/><rect x="1326.88" y="294.83" width="42.56" height="4.76" fill="rgb(151,217,133)" fill-opacity="0.643"/><rect x="1369.44" y="294.83" width="39" height="4.76" fill="rgb(154,217,133)" fill-opacity="0.643"/><rect x="1408.44" y="294.83" width="57.4" height="4.76" fill="rgb(155,217,133)" fill-opacity="0.643"/><rect x="1465.84" y="294.83" width="21.17" height="4.76" fill="rgb(133,217,133)" fill-opacity="0.643"/><rect x="1487.01" y="294.83" width="18.29" height="4.76" fill="rgb(166,217,133)" fill-opacity="0.643"/><rect x="1505.3" y="294.83" width="47.23" height="4.76" fill="rgb(166,217,133)" fill-opacity="0.643"/><rect x="1552.53" y="294.83" width="24.88" height="4.76" fill="rgb(167,217,133)" fill-opacity="0.643"/><rect x="1577.41" y="294.83" width="52.46" height="4.76" fill="rgb(143,217,133)" fill-opacity="0.643"/><rect x="1629.87" y="294.83" width="23.81" height="4.76" fill="rgb(138,217,133)" fill-opacity="0.643"/><rect x="1653.68" y="294.83" width="34.82" height="4.76" fill="rgb(141,217,133)" fill-opacity="0.643"/><rect x="1688.5" y="294.83" width="4.1" height="4.76" fill="rgb(177,217,133)" fill-opacity="0.643"/><rect x="204.4" y="299.59" width="895.6" height="4.76" fill="rgb(107,128,122)" fill-opacity="0.969"/><rect x="1100" y="299.59" width="33.86" height="4.76" fill="rgb(115,217,133)" fill-opacity="0.969"/><rect x="1133.86" y="299.59" width="41.25" height="4.76" fill="rgb(143,217,133)" fill-opacity="0.969"/><rect x="1175.11" y="299.59" width="38.93" height="4.76" fill="rgb(128,217,133)" fill-opacity="0.969"/><rect x="1214.04" y="299.59" width="15.18" height="4.76" fill="rgb(151,217,133)" fill-opacity="0.969"/><rect x="1229.22" y="299.59" width="40.04" height="4.76" fill="rgb(139,217,133)" fill-opacity="0.969"/><rect x="1269.26" y="299.59" width="19.77" height="4.76" fill="rgb(149,217,133)" fill-opacity="0.969"/><rect x="1289.03" y="299.59" width="37.85" height="4.76" fill="rgb(144,217,133)" fill-opacity="0.969"/><rect x="1326.88" y="299.59" width="42.56" height="4.76" fill="rgb(146,217,133)" fill-opacity="0.969"/><rect x="1369.44" y="299.59" width="39" height="4.76" fill="rgb(157,217,133)" fill-opacity="0.969"/><rect x="1408.44" y="299.59" width="57.4" height="4.76" fill="rgb(153,217,133)" fill-opacity="0.969"/><rect x="1465.84" y="299.59" width="21.17" height="4.76" fill="rgb(136,217,133)" fill-opacity="0.969"/><rect x="1487.01" y="299.59" width="18.29" height="4.76" fill="rgb(151,217,133)" fill-opacity="0.969"/><rect x="1505.3" y="299.59" width="47.23" height="4.76" fill="rgb(167,217,133)" fill-opacity="0.969"/><rect x="1552.53" y="299.59" width="24.88" height="4.76" fill="rgb(177,217,133)" fill-opacity="0.969"/><rect x="1577.41" y="299.59" width="52.46" height="4.76" fill="rgb(139,217,133)" fill-opacity="0.969"/><rect x="1629.87" y="299.59" width="23.81" height="4.76" fill="rgb(149,217,133)" fill-opacity="0.969"/><rect x="1653.68" y="299.59" width="34.82" height="4.76" fill="rgb(139,217,133)" fill-opacity="0.969"/><rect x="1688.5" y="299.59" width="4.1" height="4.76" fill="rgb(160,217,133)" fill-opacity="0.969"/><rect x="204.4" y="304.35" width="1488.2" height="4.76" fill="rgb(69,102,122)" fill-opacity="0.718"/><rect x="204.4" y="309.1" width="1488.2" height="4.76" fill="rgb(69,102,122)" fill-opacity="0.710"/><rect x="204.4" y="313.86" width="1488.2" height="4.76" fill="rgb(69,102,122)" fill-opacity="0.561"/><rect x="204.4" y="318.61" width="1488.2" height="4.76" fill="rgb(115,115,128)" fill-opacity="0.776"/><rect x="204.4" y="323.37" width="1488.2" height="4.76" fill="rgb(89,140,128)" fill-opacity="0.718"/><rect x="204.4" y="328.13" width="775.6" height="4.76" fill="rgb(115,115,117)" fill-opacity="0.561"/><rect x="980" y="328.13" width="29.57" height="4.76" fill="rgb(105,242,128)" fill-opacity="0.561"/><rect x="1009.57" y="328.13" width="37.83" height="4.76" fill="rgb(100,242,128)" fill-opacity="0.561"/><rect x="1047.41" y="328.13" width="20.57" height="4.76" fill="rgb(114,242,128)" fill-opacity="0.561"/><rect x="1067.98" y="328.13" width="17.1" height="4.76" fill="rgb(129,242,128)" fill-opacity="0.561"/><rect x="1085.07" y="328.13" width="23.13" height="4.76" fill="rgb(129,242,128)" fill-opacity="0.561"/><rect x="1108.21" y="328.13" width="24.27" height="4.76" fill="rgb(131,242,128)" fill-opacity="0.561"/><rect x="1132.48" y="328.13" width="50.75" height="4.76" fill="rgb(130,242,128)" fill-opacity="0.561"/><rect x="1183.22" y="328.13" width="27.96" height="4.76" fill="rgb(142,242,128)" fill-opacity="0.561"/><rect x="1211.18" y="328.13" width="16.76" height="4.76" fill="rgb(149,242,128)" fill-opacity="0.561"/><rect x="1227.94" y="328.13" width="41.75" height="4.76" fill="rgb(142,242,128)" fill-opacity="0.561"/><rect x="1269.69" y="328.13" width="17.73" height="4.76" fill="rgb(152,242,128)" fill-opacity="0.561"/><rect x="1287.42" y="328.13" width="45.09" height="4.76" fill="rgb(127,242,128)" fill-opacity="0.561"/><rect x="1332.51" y="328.13" width="20.82" height="4.76" fill="rgb(133,242,128)" fill-opacity="0.561"/><rect x="1353.33" y="328.13" width="54.75" height="4.76" fill="rgb(160,242,128)" fill-opacity="0.561"/><rect x="1408.08" y="328.13" width="58.1" height="4.76" fill="rgb(126,242,128)" fill-opacity="0.561"/><rect x="1466.18" y="328.13" width="26.82" height="4.76" fill="rgb(126,242,128)" fill-opacity="0.561"/><rect x="1493" y="328.13" width="38.2" height="4.76" fill="rgb(150,242,128)" fill-opacity="0.561"/><rect x="1531.2" y="328.13" width="50.9" height="4.76" fill="rgb(137,242,128)" fill-opacity="0.561"/><rect x="1582.11" y="328.13" width="24.39" height="4.76" fill="rgb(129,242,128)" fill-opacity="0.561"/><rect x="1606.5" y="328.13" width="31.36" height="4.76" fill="rgb(136,242,128)" fill-opacity="0.561"/><rect x="1637.86" y="328.13" width="31.39" height="4.76" fill="rgb(138,242,128)" fill-opacity="0.561"/><rect x="1669.25" y="328.13" width="19.6" height="4.76" fill="rgb(133,242,128)" fill-opacity="0.561"/><rect x="1688.85" y="328.13" width="3.75" height="4.76" fill="rgb(133,242,128)" fill-opacity="0.561"/><rect x="204.4" y="332.88" width="775.6" height="4.76" fill="rgb(115,115,117)" fill-opacity="0.804"/><rect x="980" y="332.88" width="29.57" height="4.76" fill="rgb(93,242,128)" fill-opacity="0.804"/><rect x="1009.57" y="332.88" width="37.83" height="4.76" fill="rgb(93,242,128)" fill-opacity="0.804"/><rect x="1047.41" y="332.88" width="20.57" height="4.76" fill="rgb(121,242,128)" fill-opacity="0.804"/><rect x="1067.98" y="332.88" width="17.1" height="4.76" fill="rgb(126,242,128)" fill-opacity="0.804"/><rect x="1085.07" y="332.88" width="23.13" height="4.76" fill="rgb(124,242,128)" fill-opacity="0.804"/><rect x="1108.21" y="332.88" width="24.27" height="4.76" fill="rgb(128,242,128)" fill-opacity="0.804"/><rect x="1132.48" y="332.88" width="50.75" height="4.76" fill="rgb(137,242,128)" fill-opacity="0.804"/><rect x="1183.22" y="332.88" width="27.96" height="4.76" fill="rgb(148,242,128)" fill-opacity="0.804"/><rect x="1211.18" y="332.88" width="16.76" height="4.76" fill="rgb(145,242,128)" fill-opacity="0.804"/><rect x="1227.94" y="332.88" width="41.75" height="4.76" fill="rgb(150,242,128)" fill-opacity="0.804"/><rect x="1269.69" y="332.88" width="17.73" height="4.76" fill="rgb(159,242,128)" fill-opacity="0.804"/><rect x="1287.42" y="332.88" width="45.09" height="4.76" fill="rgb(121,242,128)" fill-opacity="0.804"/><rect x="1332.51" y="332.88" width="20.82" height="4.76" fill="rgb(143,242,128)" fill-opacity="0.804"/><rect x="1353.33" y="332.88" width="54.75" height="4.76" fill="rgb(148,242,128)" fill-opacity="0.804"/><rect x="1408.08" y="332.88" width="58.1" height="4.76" fill="rgb(127,242,128)" fill-opacity="0.804"/><rect x="1466.18" y="332.88" width="26.82" height="4.76" fill="rgb(125,242,128)" fill-opacity="0.804"/><rect x="1493" y="332.88" width="38.2" height="4.76" fill="rgb(137,242,128)" fill-opacity="0.804"/><rect x="1531.2" y="332.88" width="50.9" height="4.76" fill="rgb(131,242,128)" fill-opacity="0.804"/><rect x="1582.11" y="332.88" width="24.39" height="4.76" fill="rgb(123,242,128)" fill-opacity="0.804"/><rect x="1606.5" y="332.88" width="31.36" height="4.76" fill="rgb(131,242,128)" fill-opacity="0.804"/><rect x="1637.86" y="332.88" width="31.39" height="4.76" fill="rgb(141,242,128)" fill-opacity="0.804"/><rect x="1669.25" y="332.88" width="19.6" height="4.76" fill="rgb(145,242,128)" fill-opacity="0.804"/><rect x="1688.85" y="332.88" width="3.75" height="4.76" fill="rgb(122,242,128)" fill-opacity="0.804"/><rect x="204.4" y="337.64" width="775.6" height="4.76" fill="rgb(115,115,117)" fill-opacity="0.894"/><rect x="980" y="337.64" width="29.57" height="4.76" fill="rgb(102,242,128)" fill-opacity="0.894"/><rect x="1009.57" y="337.64" width="37.83" height="4.76" fill="rgb(93,242,128)" fill-opacity="0.894"/><rect x="1047.41" y="337.64" width="20.57" height="4.76" fill="rgb(113,242,128)" fill-opacity="0.894"/><rect x="1067.98" y="337.64" width="17.1" height="4.76" fill="rgb(125,242,128)" fill-opacity="0.894"/><rect x="1085.07" y="337.64" width="23.13" height="4.76" fill="rgb(128,242,128)" fill-opacity="0.894"/><rect x="1108.21" y="337.64" width="24.27" height="4.76" fill="rgb(134,242,128)" fill-opacity="0.894"/><rect x="1132.48" y="337.64" width="50.75" height="4.76" fill="rgb(136,242,128)" fill-opacity="0.894"/><rect x="1183.22" y="337.64" width="27.96" height="4.76" fill="rgb(155,242,128)" fill-opacity="0.894"/><rect x="1211.18" y="337.64" width="16.76" height="4.76" fill="rgb(151,242,128)" fill-opacity="0.894"/><rect x="1227.94" y="337.64" width="41.75" height="4.76" fill="rgb(152,242,128)" fill-opacity="0.894"/><rect x="1269.69" y="337.64" width="17.73" height="4.76" fill="rgb(156,242,128)" fill-opacity="0.894"/><rect x="1287.42" y="337.64" width="45.09" height="4.76" fill="rgb(120,242,128)" fill-opacity="0.894"/><rect x="1332.51" y="337.64" width="20.82" height="4.76" fill="rgb(127,242,128)" fill-opacity="0.894"/><rect x="1353.33" y="337.64" width="54.75" height="4.76" fill="rgb(151,242,128)" fill-opacity="0.894"/><rect x="1408.08" y="337.64" width="58.1" height="4.76" fill="rgb(127,242,128)" fill-opacity="0.894"/><rect x="1466.18" y="337.64" width="26.82" height="4.76" fill="rgb(129,242,128)" fill-opacity="0.894"/><rect x="1493" y="337.64" width="38.2" height="4.76" fill="rgb(155,242,128)" fill-opacity="0.894"/><rect x="1531.2" y="337.64" width="50.9" height="4.76" fill="rgb(142,242,128)" fill-opacity="0.894"/><rect x="1582.11" y="337.64" width="24.39" height="4.76" fill="rgb(122,242,128)" fill-opacity="0.894"/><rect x="1606.5" y="337.64" width="31.36" height="4.76" fill="rgb(121,242,128)" fill-opacity="0.894"/><rect x="1637.86" y="337.64" width="31.39" height="4.76" fill="rgb(131,242,128)" fill-opacity="0.894"/><rect x="1669.25" y="337.64" width="19.6" height="4.76" fill="rgb(131,242,128)" fill-opacity="0.894"/><rect x="1688.85" y="337.64" width="3.75" height="4.76" fill="rgb(133,242,128)" fill-opacity="0.894"/><rect x="204.4" y="342.39" width="775.6" height="4.76" fill="rgb(107,115,117)" fill-opacity="0.922"/><rect x="980" y="342.39" width="29.57" height="4.76" fill="rgb(99,242,128)" fill-opacity="0.922"/><rect x="1009.57" y="342.39" width="37.83" height="4.76" fill="rgb(100,242,128)" fill-opacity="0.922"/><rect x="1047.41" y="342.39" width="20.57" height="4.76" fill="rgb(109,242,128)" fill-opacity="0.922"/><rect x="1067.98" y="342.39" width="17.1" height="4.76" fill="rgb(129,242,128)" fill-opacity="0.922"/><rect x="1085.07" y="342.39" width="23.13" height="4.76" fill="rgb(118,242,128)" fill-opacity="0.922"/><rect x="1108.21" y="342.39" width="24.27" height="4.76" fill="rgb(131,242,128)" fill-opacity="0.922"/><rect x="1132.48" y="342.39" width="50.75" height="4.76" fill="rgb(143,242,128)" fill-opacity="0.922"/><rect x="1183.22" y="342.39" width="27.96" height="4.76" fill="rgb(143,242,128)" fill-opacity="0.922"/><rect x="1211.18" y="342.39" width="16.76" height="4.76" fill="rgb(140,242,128)" fill-opacity="0.922"/><rect x="1227.94" y="342.39" width="41.75" height="4.76" fill="rgb(142,242,128)" fill-opacity="0.922"/><rect x="1269.69" y="342.39" width="17.73" height="4.76" fill="rgb(145,242,128)" fill-opacity="0.922"/><rect x="1287.42" y="342.39" width="45.09" height="4.76" fill="rgb(119,242,128)" fill-opacity="0.922"/><rect x="1332.51" y="342.39" width="20.82" height="4.76" fill="rgb(134,242,128)" fill-opacity="0.922"/><rect x="1353.33" y="342.39" width="54.75" height="4.76" fill="rgb(150,242,128)" fill-opacity="0.922"/><rect x="1408.08" y="342.39" width="58.1" height="4.76" fill="rgb(132,242,128)" fill-opacity="0.922"/><rect x="1466.18" y="342.39" width="26.82" height="4.76" fill="rgb(137,242,128)" fill-opacity="0.922"/><rect x="1493" y="342.39" width="38.2" height="4.76" fill="rgb(152,242,128)" fill-opacity="0.922"/><rect x="1531.2" y="342.39" width="50.9" height="4.76" fill="rgb(131,242,128)" fill-opacity="0.922"/><rect x="1582.11" y="342.39" width="24.39" height="4.76" fill="rgb(125,242,128)" fill-opacity="0.922"/><rect x="1606.5" y="342.39" width="31.36" height="4.76" fill="rgb(123,242,128)" fill-opacity="0.922"/><rect x="1637.86" y="342.39" width="31.39" height="4.76" fill="rgb(131,242,128)" fill-opacity="0.922"/><rect x="1669.25" y="342.39" width="19.6" height="4.76" fill="rgb(128,242,128)" fill-opacity="0.922"/><rect x="1688.85" y="342.39" width="3.75" height="4.76" fill="rgb(142,242,128)" fill-opacity="0.922"/><rect x="204.4" y="347.15" width="775.6" height="4.76" fill="rgb(107,115,117)" fill-opacity="0.757"/><rect x="980" y="347.15" width="29.57" height="4.76" fill="rgb(92,242,128)" fill-opacity="0.757"/><rect x="1009.57" y="347.15" width="37.83" height="4.76" fill="rgb(108,242,128)" fill-opacity="0.757"/><rect x="1047.41" y="347.15" width="20.57" height="4.76" fill="rgb(121,242,128)" fill-opacity="0.757"/><rect x="1067.98" y="347.15" width="17.1" height="4.76" fill="rgb(140,242,128)" fill-opacity="0.757"/><rect x="1085.07" y="347.15" width="23.13" height="4.76" fill="rgb(118,242,128)" fill-opacity="0.757"/><rect x="1108.21" y="347.15" width="24.27" height="4.76" fill="rgb(128,242,128)" fill-opacity="0.757"/><rect x="1132.48" y="347.15" width="50.75" height="4.76" fill="rgb(140,242,128)" fill-opacity="0.757"/><rect x="1183.22" y="347.15" width="27.96" height="4.76" fill="rgb(150,242,128)" fill-opacity="0.757"/><rect x="1211.18" y="347.15" width="16.76" height="4.76" fill="rgb(148,242,128)" fill-opacity="0.757"/><rect x="1227.94" y="347.15" width="41.75" height="4.76" fill="rgb(146,242,128)" fill-opacity="0.757"/><rect x="1269.69" y="347.15" width="17.73" height="4.76" fill="rgb(147,242,128)" fill-opacity="0.757"/><rect x="1287.42" y="347.15" width="45.09" height="4.76" fill="rgb(134,242,128)" fill-opacity="0.757"/><rect x="1332.51" y="347.15" width="20.82" height="4.76" fill="rgb(136,242,128)" fill-opacity="0.757"/><rect x="1353.33" y="347.15" width="54.75" height="4.76" fill="rgb(160,242,128)" fill-opacity="0.757"/><rect x="1408.08" y="347.15" width="58.1" height="4.76" fill="rgb(134,242,128)" fill-opacity="0.757"/><rect x="1466.18" y="347.15" width="26.82" height="4.76" fill="rgb(132,242,128)" fill-opacity="0.757"/><rect x="1493" y="347.15" width="38.2" height="4.76" fill="rgb(154,242,128)" fill-opacity="0.757"/><rect x="1531.2" y="347.15" width="50.9" height="4.76" fill="rgb(131,242,128)" fill-opacity="0.757"/><rect x="1582.11" y="347.15" width="24.39" height="4.76" fill="rgb(124,242,128)" fill-opacity="0.757"/><rect x="1606.5" y="347.15" width="31.36" height="4.76" fill="rgb(125,242,128)" fill-opacity="0.757"/><rect x="1637.86" y="347.15" width="31.39" height="4.76" fill="rgb(123,242,128)" fill-opacity="0.757"/><rect x="1669.25" y="347.15" width="19.6" height="4.76" fill="rgb(147,242,128)" fill-opacity="0.757"/><rect x="1688.85" y="347.15" width="3.75" height="4.76" fill="rgb(139,242,128)" fill-opacity="0.757"/><rect x="204.4" y="351.91" width="1.6" height="4.76" fill="rgb(115,128,122)" fill-opacity="0.549"/><rect x="206" y="351.91" width="57" height="4.76" fill="rgb(217,217,128)" fill-opacity="0.549"/><rect x="263" y="351.91" width="24" height="4.76" fill="rgb(115,153,117)" fill-opacity="0.549"/><rect x="287" y="351.91" width="57" height="4.76" fill="rgb(178,217,128)" fill-opacity="0.549"/><rect x="344" y="351.91" width="9" height="4.76" fill="rgb(115,153,117)" fill-opacity="0.549"/><rect x="353" y="351.91" width="33" height="4.76" fill="rgb(178,217,128)" fill-opacity="0.549"/><rect x="386" y="351.91" width="6" height="4.76" fill="rgb(115,153,117)" fill-opacity="0.549"/><rect x="392" y="351.91" width="34" height="4.76" fill="rgb(217,217,128)" fill-opacity="0.549"/><rect x="426" y="351.91" width="11" height="4.76" fill="rgb(115,153,117)" fill-opacity="0.549"/><rect x="437" y="351.91" width="34" height="4.76" fill="rgb(217,217,128)" fill-opacity="0.549"/><rect x="471" y="351.91" width="5" height="4.76" fill="rgb(115,153,117)" fill-opacity="0.549"/><rect x="476" y="351.91" width="26" height="4.76" fill="rgb(178,217,128)" fill-opacity="0.549"/><rect x="502" y="351.91" width="5" height="4.76" fill="rgb(115,153,117)" fill-opacity="0.549"/><rect x="507" y="351.91" width="42" height="4.76" fill="rgb(204,217,128)" fill-opacity="0.549"/><rect x="549" y="351.91" width="12" height="4.76" fill="rgb(115,153,117)" fill-opacity="0.549"/><rect x="561" y="351.91" width="42" height="4.76" fill="rgb(217,217,128)" fill-opacity="0.549"/><rect x="603" y="351.91" width="8" height="4.76" fill="rgb(115,153,117)" fill-opacity="0.549"/><rect x="611" y="351.91" width="31" height="4.76" fill="rgb(178,217,128)" fill-opacity="0.549"/><rect x="642" y="351.91" width="328" height="4.76" fill="rgb(204,217,128)" fill-opacity="0.549"/><rect x="970" y="351.91" width="61" height="4.76" fill="rgb(115,153,117)" fill-opacity="0.549"/><rect x="1031" y="351.91" width="23" height="4.76" fill="rgb(217,217,128)" fill-opacity="0.549"/><rect x="1054" y="351.91" width="19" height="4.76" fill="rgb(115,153,117)" fill-opacity="0.549"/><rect x="1073" y="351.91" width="433" height="4.76" fill="rgb(242,217,128)" fill-opacity="0.549"/><rect x="1506" y="351.91" width="56" height="4.76" fill="rgb(178,217,128)" fill-opacity="0.549"/><rect x="1562" y="351.91" width="51" height="4.76" fill="rgb(140,217,128)" fill-opacity="0.549"/><rect x="1613" y="351.91" width="17" height="4.76" fill="rgb(178,217,128)" fill-opacity="0.549"/><rect x="1630" y="351.91" width="20" height="4.76" fill="rgb(115,153,117)" fill-opacity="0.549"/><rect x="1650" y="351.91" width="42.6" height="4.76" fill="rgb(242,217,128)" fill-opacity="0.549"/><rect x="204.4" y="356.66" width="1488.2" height="4.76" fill="rgb(102,115,117)" fill-opacity="0.549"/><rect x="204.4" y="361.42" width="1488.2" height="4.76" fill="rgb(102,115,117)" fill-opacity="0.878"/><rect x="204.4" y="366.17" width="1488.2" height="4.76" fill="rgb(102,115,117)" fill-opacity="0.984"/><rect x="204.4" y="370.93" width="1488.2" height="4.76" fill="rgb(102,128,122)" fill-opacity="0.627"/><rect x="204.4" y="375.69" width="1488.2" height="4.76" fill="rgb(0,0,128)" fill-opacity="0.933"/><rect x="204.4" y="380.44" width="1488.2" height="4.76" fill="rgb(0,0,128)" fill-opacity="0.839"/><rect x="204.4" y="385.2" width="1488.2" height="4.76" fill="rgb(0,0,128)" fill-opacity="0.635"/><rect x="204.4" y="389.95" width="1488.2" height="4.76" fill="rgb(0,0,128)" fill-opacity="0.690"/><rect x="204.4" y="394.71" width="1488.2" height="4.76" fill="rgb(0,0,128)" fill-opacity="0.596"/><rect x="204.4" y="399.47" width="1488.2" height="4.76" fill="rgb(0,0,128)" fill-opacity="0.875"/><rect x="204.4" y="404.22" width="1488.2" height="4.76" fill="rgb(0,0,128)" fill-opacity="0.757"/><rect x="204.4" y="408.98" width="1488.2" height="4.76" fill="rgb(0,0,128)" fill-opacity="0.600"/><rect x="204.4" y="413.73" width="1488.2" height="4.76" fill="rgb(0,0,128)" fill-opacity="0.992"/><rect x="204.4" y="418.49" width="1488.2" height="4.76" fill="rgb(0,0,128)" fill-opacity="0.890"/><rect x="204.4" y="423.25" width="1488.2" height="4.76" fill="rgb(0,0,128)" fill-opacity="0.835"/><rect x="204.4" y="428" width="1488.2" height="4.76" fill="rgb(0,0,128)" fill-opacity="0.639"/><rect x="204.4" y="432.76" width="1488.2" height="4.76" fill="rgb(0,0,128)" fill-opacity="0.918"/><rect x="204.4" y="437.51" width="1488.2" height="4.76" fill="rgb(0,0,128)" fill-opacity="0.737"/><rect x="204.4" y="442.27" width="1488.2" height="4.76" fill="rgb(0,0,128)" fill-opacity="0.663"/><rect x="204.4" y="447.03" width="1488.2" height="4.76" fill="rgb(0,0,128)" fill-opacity="0.812"/><rect x="204.4" y="451.78" width="1488.2" height="4.76" fill="rgb(0,0,128)" fill-opacity="0.847"/><rect x="204.4" y="456.54" width="1488.2" height="4.76" fill="rgb(0,0,128)" fill-opacity="0.902"/><rect x="204.4" y="461.29" width="1488.2" height="4.76" fill="rgb(0,0,128)" fill-opacity="0.961"/><rect x="204.4" y="466.05" width="1488.2" height="4.76" fill="rgb(0,0,128)" fill-opacity="0.714"/><rect x="204.4" y="470.81" width="1488.2" height="4.76" fill="rgb(0,0,128)" fill-opacity="0.953"/><rect x="204.4" y="475.56" width="1488.2" height="4.76" fill="rgb(0,0,128)" fill-opacity="0.569"/><rect x="204.4" y="480.32" width="1488.2" height="4.76" fill="rgb(0,0,128)" fill-opacity="0.663"/><rect x="204.4" y="485.07" width="1488.2" height="4.76" fill="rgb(0,0,128)" fill-opacity="0.608"/><rect x="204.4" y="489.83" width="1488.2" height="4.76" fill="rgb(0,0,128)" fill-opacity="0.984"/><rect x="204.4" y="494.59" width="1488.2" height="4.76" fill="rgb(0,0,128)" fill-opacity="0.796"/><rect x="204.4" y="499.34" width="1488.2" height="4.76" fill="rgb(128,115,117)" fill-opacity="0.655"/><rect x="204.4" y="504.1" width="1488.2" height="4.76" fill="rgb(69,166,143)" fill-opacity="0.918"/><rect x="204.4" y="508.85" width="1488.2" height="4.76" fill="rgb(69,153,143)" fill-opacity="0.949"/><rect x="204.4" y="513.61" width="122.6" height="4.76" fill="rgb(69,128,133)" fill-opacity="0.925"/><rect x="327" y="513.61" width="13" height="4.76" fill="rgb(230,153,122)" fill-opacity="0.925"/><rect x="340" y="513.61" width="211" height="4.76" fill="rgb(69,128,133)" fill-opacity="0.925"/><rect x="551" y="513.61" width="8" height="4.76" fill="rgb(230,153,122)" fill-opacity="0.925"/><rect x="559" y="513.61" width="44" height="4.76" fill="rgb(69,128,133)" fill-opacity="0.925"/><rect x="603" y="513.61" width="8" height="4.76" fill="rgb(230,153,122)" fill-opacity="0.925"/><rect x="611" y="513.61" width="42" height="4.76" fill="rgb(69,128,133)" fill-opacity="0.925"/><rect x="653" y="513.61" width="8" height="4.76" fill="rgb(230,153,122)" fill-opacity="0.925"/><rect x="661" y="513.61" width="197" height="4.76" fill="rgb(69,128,133)" fill-opacity="0.925"/><rect x="858" y="513.61" width="12" height="4.76" fill="rgb(230,153,122)" fill-opacity="0.925"/><rect x="870" y="513.61" width="69" height="4.76" fill="rgb(69,128,133)" fill-opacity="0.925"/><rect x="939" y="513.61" width="6" height="4.76" fill="rgb(230,153,122)" fill-opacity="0.925"/><rect x="945" y="513.61" width="133" height="4.76" fill="rgb(69,128,133)" fill-opacity="0.925"/><rect x="1078" y="513.61" width="6" height="4.76" fill="rgb(230,153,122)" fill-opacity="0.925"/><rect x="1084" y="513.61" width="11" height="4.76" fill="rgb(69,128,133)" fill-opacity="0.925"/><rect x="1095" y="513.61" width="14" height="4.76" fill="rgb(230,153,122)" fill-opacity="0.925"/><rect x="1109" y="513.61" width="159" height="4.76" fill="rgb(69,128,133)" fill-opacity="0.925"/><rect x="1268" y="513.61" width="13" height="4.76" fill="rgb(230,153,122)" fill-opacity="0.925"/><rect x="1281" y="513.61" width="13" height="4.76" fill="rgb(69,128,133)" fill-opacity="0.925"/><rect x="1294" y="513.61" width="8" height="4.76" fill="rgb(230,153,122)" fill-opacity="0.925"/><rect x="1302" y="513.61" width="13" height="4.76" fill="rgb(69,128,133)" fill-opacity="0.925"/><rect x="1315" y="513.61" width="8" height="4.76" fill="rgb(230,153,122)" fill-opacity="0.925"/><rect x="1323" y="513.61" width="82" height="4.76" fill="rgb(69,128,133)" fill-opacity="0.925"/><rect x="1405" y="513.61" width="6" height="4.76" fill="rgb(230,153,122)" fill-opacity="0.925"/><rect x="1411" y="513.61" width="25" height="4.76" fill="rgb(69,128,133)" fill-opacity="0.925"/><rect x="1436" y="513.61" width="8" height="4.76" fill="rgb(230,153,122)" fill-opacity="0.925"/><rect x="1444" y="513.61" width="34" height="4.76" fill="rgb(69,128,133)" fill-opacity="0.925"/><rect x="1478" y="513.61" width="4" height="4.76" fill="rgb(230,153,122)" fill-opacity="0.925"/><rect x="1482" y="513.61" width="168" height="4.76" fill="rgb(69,128,133)" fill-opacity="0.925"/><rect x="1650" y="513.61" width="4" height="4.76" fill="rgb(230,153,122)" fill-opacity="0.925"/><rect x="1654" y="513.61" width="38.6" height="4.76" fill="rgb(69,128,133)" fill-opacity="0.925"/><rect x="204.4" y="518.37" width="97.6" height="4.76" fill="rgb(69,140,138)" fill-opacity="0.827"/><rect x="302" y="518.37" width="6" height="4.76" fill="rgb(230,153,122)" fill-opacity="0.827"/><rect x="308" y="518.37" width="19" height="4.76" fill="rgb(69,140,138)" fill-opacity="0.827"/><rect x="327" y="518.37" width="13" height="4.76" fill="rgb(230,153,122)" fill-opacity="0.827"/><rect x="340" y="518.37" width="8" height="4.76" fill="rgb(69,140,138)" fill-opacity="0.827"/><rect x="348" y="518.37" width="4" height="4.76" fill="rgb(230,153,122)" fill-opacity="0.827"/><rect x="352" y="518.37" width="180" height="4.76" fill="rgb(69,140,138)" fill-opacity="0.827"/><rect x="532" y="518.37" width="8" height="4.76" fill="rgb(230,153,122)" fill-opacity="0.827"/><rect x="540" y="518.37" width="11" height="4.76" fill="rgb(69,140,138)" fill-opacity="0.827"/><rect x="551" y="518.37" width="8" height="4.76" fill="rgb(230,153,122)" fill-opacity="0.827"/><rect x="559" y="518.37" width="44" height="4.76" fill="rgb(69,140,138)" fill-opacity="0.827"/><rect x="603" y="518.37" width="8" height="4.76" fill="rgb(230,153,122)" fill-opacity="0.827"/><rect x="611" y="518.37" width="17" height="4.76" fill="rgb(69,140,138)" fill-opacity="0.827"/><rect x="628" y="518.37" width="8" height="4.76" fill="rgb(230,153,122)" fill-opacity="0.827"/><rect x="636" y="518.37" width="17" height="4.76" fill="rgb(69,140,138)" fill-opacity="0.827"/><rect x="653" y="518.37" width="8" height="4.76" fill="rgb(230,153,122)" fill-opacity="0.827"/><rect x="661" y="518.37" width="46" height="4.76" fill="rgb(69,140,138)" fill-opacity="0.827"/><rect x="707" y="518.37" width="17" height="4.76" fill="rgb(230,153,122)" fill-opacity="0.827"/><rect x="724" y="518.37" width="25" height="4.76" fill="rgb(69,140,138)" fill-opacity="0.827"/><rect x="749" y="518.37" width="8" height="4.76" fill="rgb(230,153,122)" fill-opacity="0.827"/><rect x="757" y="518.37" width="101" height="4.76" fill="rgb(69,140,138)" fill-opacity="0.827"/><rect x="858" y="518.37" width="12" height="4.76" fill="rgb(230,153,122)" fill-opacity="0.827"/><rect x="870" y="518.37" width="6" height="4.76" fill="rgb(69,140,138)" fill-opacity="0.827"/><rect x="876" y="518.37" width="7" height="4.76" fill="rgb(230,153,122)" fill-opacity="0.827"/><rect x="883" y="518.37" width="56" height="4.76" fill="rgb(69,140,138)" fill-opacity="0.827"/><rect x="939" y="518.37" width="6" height="4.76" fill="rgb(230,153,122)" fill-opacity="0.827"/><rect x="945" y="518.37" width="133" height="4.76" fill="rgb(69,140,138)" fill-opacity="0.827"/><rect x="1078" y="518.37" width="6" height="4.76" fill="rgb(230,153,122)" fill-opacity="0.827"/><rect x="1084" y="518.37" width="11" height="4.76" fill="rgb(69,140,138)" fill-opacity="0.827"/><rect x="1095" y="518.37" width="14" height="4.76" fill="rgb(230,153,122)" fill-opacity="0.827"/><rect x="1109" y="518.37" width="84" height="4.76" fill="rgb(69,140,138)" fill-opacity="0.827"/><rect x="1193" y="518.37" width="11" height="4.76" fill="rgb(230,153,122)" fill-opacity="0.827"/><rect x="1204" y="518.37" width="10" height="4.76" fill="rgb(69,140,138)" fill-opacity="0.827"/><rect x="1214" y="518.37" width="8" height="4.76" fill="rgb(230,153,122)" fill-opacity="0.827"/><rect x="1222" y="518.37" width="46" height="4.76" fill="rgb(69,140,138)" fill-opacity="0.827"/><rect x="1268" y="518.37" width="13" height="4.76" fill="rgb(230,153,122)" fill-opacity="0.827"/><rect x="1281" y="518.37" width="13" height="4.76" fill="rgb(69,140,138)" fill-opacity="0.827"/><rect x="1294" y="518.37" width="8" height="4.76" fill="rgb(230,153,122)" fill-opacity="0.827"/><rect x="1302" y="518.37" width="13" height="4.76" fill="rgb(69,140,138)" fill-opacity="0.827"/><rect x="1315" y="518.37" width="8" height="4.76" fill="rgb(230,153,122)" fill-opacity="0.827"/><rect x="1323" y="518.37" width="21" height="4.76" fill="rgb(69,140,138)" fill-opacity="0.827"/><rect x="1344" y="518.37" width="4" height="4.76" fill="rgb(230,153,122)" fill-opacity="0.827"/><rect x="1348" y="518.37" width="17" height="4.76" fill="rgb(69,140,138)" fill-opacity="0.827"/><rect x="1365" y="518.37" width="12" height="4.76" fill="rgb(230,153,122)" fill-opacity="0.827"/><rect x="1377" y="518.37" width="28" height="4.76" fill="rgb(69,140,138)" fill-opacity="0.827"/><rect x="1405" y="518.37" width="6" height="4.76" fill="rgb(230,153,122)" fill-opacity="0.827"/><rect x="1411" y="518.37" width="13" height="4.76" fill="rgb(69,140,138)" fill-opacity="0.827"/><rect x="1424" y="518.37" width="2" height="4.76" fill="rgb(230,153,122)" fill-opacity="0.827"/><rect x="1426" y="518.37" width="10" height="4.76" fill="rgb(69,140,138)" fill-opacity="0.827"/><rect x="1436" y="518.37" width="8" height="4.76" fill="rgb(230,153,122)" fill-opacity="0.827"/><rect x="1444" y="518.37" width="34" height="4.76" fill="rgb(69,140,138)" fill-opacity="0.827"/><rect x="1478" y="518.37" width="4" height="4.76" fill="rgb(230,153,122)" fill-opacity="0.827"/><rect x="1482" y="518.37" width="17" height="4.76" fill="rgb(69,140,138)" fill-opacity="0.827"/><rect x="1499" y="518.37" width="2" height="4.76" fill="rgb(230,153,122)" fill-opacity="0.827"/><rect x="1501" y="518.37" width="15" height="4.76" fill="rgb(69,140,138)" fill-opacity="0.827"/><rect x="1516" y="518.37" width="6" height="4.76" fill="rgb(230,153,122)" fill-opacity="0.827"/><rect x="1522" y="518.37" width="63" height="4.76" fill="rgb(69,140,138)" fill-opacity="0.827"/><rect x="1585" y="518.37" width="2" height="4.76" fill="rgb(230,153,122)" fill-opacity="0.827"/><rect x="1587" y="518.37" width="63" height="4.76" fill="rgb(69,140,138)" fill-opacity="0.827"/><rect x="1650" y="518.37" width="4" height="4.76" fill="rgb(230,153,122)" fill-opacity="0.827"/><rect x="1654" y="518.37" width="25" height="4.76" fill="rgb(69,140,138)" fill-opacity="0.827"/><rect x="1679" y="518.37" width="11" height="4.76" fill="rgb(230,153,122)" fill-opacity="0.827"/><rect x="1690" y="518.37" width="2.6" height="4.76" fill="rgb(69,140,138)" fill-opacity="0.827"/><rect x="204.4" y="523.12" width="97.6" height="4.76" fill="rgb(69,115,138)" fill-opacity="0.882"/><rect x="302" y="523.12" width="6" height="4.76" fill="rgb(230,153,122)" fill-opacity="0.882"/><rect x="308" y="523.12" width="19" height="4.76" fill="rgb(69,115,138)" fill-opacity="0.882"/><rect x="327" y="523.12" width="13" height="4.76" fill="rgb(230,153,122)" fill-opacity="0.882"/><rect x="340" y="523.12" width="8" height="4.76" fill="rgb(69,115,138)" fill-opacity="0.882"/><rect x="348" y="523.12" width="4" height="4.76" fill="rgb(230,153,122)" fill-opacity="0.882"/><rect x="352" y="523.12" width="180" height="4.76" fill="rgb(69,115,138)" fill-opacity="0.882"/><rect x="532" y="523.12" width="8" height="4.76" fill="rgb(230,153,122)" fill-opacity="0.882"/><rect x="540" y="523.12" width="11" height="4.76" fill="rgb(69,115,138)" fill-opacity="0.882"/><rect x="551" y="523.12" width="8" height="4.76" fill="rgb(230,153,122)" fill-opacity="0.882"/><rect x="559" y="523.12" width="44" height="4.76" fill="rgb(69,115,138)" fill-opacity="0.882"/><rect x="603" y="523.12" width="8" height="4.76" fill="rgb(230,153,122)" fill-opacity="0.882"/><rect x="611" y="523.12" width="17" height="4.76" fill="rgb(69,115,138)" fill-opacity="0.882"/><rect x="628" y="523.12" width="8" height="4.76" fill="rgb(230,153,122)" fill-opacity="0.882"/><rect x="636" y="523.12" width="17" height="4.76" fill="rgb(69,115,138)" fill-opacity="0.882"/><rect x="653" y="523.12" width="8" height="4.76" fill="rgb(230,153,122)" fill-opacity="0.882"/><rect x="661" y="523.12" width="46" height="4.76" fill="rgb(69,115,138)" fill-opacity="0.882"/><rect x="707" y="523.12" width="17" height="4.76" fill="rgb(230,153,122)" fill-opacity="0.882"/><rect x="724" y="523.12" width="25" height="4.76" fill="rgb(69,115,138)" fill-opacity="0.882"/><rect x="749" y="523.12" width="8" height="4.76" fill="rgb(230,153,122)" fill-opacity="0.882"/><rect x="757" y="523.12" width="101" height="4.76" fill="rgb(69,115,138)" fill-opacity="0.882"/><rect x="858" y="523.12" width="12" height="4.76" fill="rgb(230,153,122)" fill-opacity="0.882"/><rect x="870" y="523.12" width="6" height="4.76" fill="rgb(69,115,138)" fill-opacity="0.882"/><rect x="876" y="523.12" width="7" height="4.76" fill="rgb(230,153,122)" fill-opacity="0.882"/><rect x="883" y="523.12" width="56" height="4.76" fill="rgb(69,115,138)" fill-opacity="0.882"/><rect x="939" y="523.12" width="6" height="4.76" fill="rgb(230,153,122)" fill-opacity="0.882"/><rect x="945" y="523.12" width="133" height="4.76" fill="rgb(69,115,138)" fill-opacity="0.882"/><rect x="1078" y="523.12" width="6" height="4.76" fill="rgb(230,153,122)" fill-opacity="0.882"/><rect x="1084" y="523.12" width="11" height="4.76" fill="rgb(69,115,138)" fill-opacity="0.882"/><rect x="1095" y="523.12" width="14" height="4.76" fill="rgb(230,153,122)" fill-opacity="0.882"/><rect x="1109" y="523.12" width="84" height="4.76" fill="rgb(69,115,138)" fill-opacity="0.882"/><rect x="1193" y="523.12" width="11" height="4.76" fill="rgb(230,153,122)" fill-opacity="0.882"/><rect x="1204" y="523.12" width="10" height="4.76" fill="rgb(69,115,138)" fill-opacity="0.882"/><rect x="1214" y="523.12" width="8" height="4.76" fill="rgb(230,153,122)" fill-opacity="0.882"/><rect x="1222" y="523.12" width="46" height="4.76" fill="rgb(69,115,138)" fill-opacity="0.882"/><rect x="1268" y="523.12" width="13" height="4.76" fill="rgb(230,153,122)" fill-opacity="0.882"/><rect x="1281" y="523.12" width="13" height="4.76" fill="rgb(69,115,138)" fill-opacity="0.882"/><rect x="1294" y="523.12" width="8" height="4.76" fill="rgb(230,153,122)" fill-opacity="0.882"/><rect x="1302" y="523.12" width="13" height="4.76" fill="rgb(69,115,138)" fill-opacity="0.882"/><rect x="1315" y="523.12" width="8" height="4.76" fill="rgb(230,153,122)" fill-opacity="0.882"/><rect x="1323" y="523.12" width="21" height="4.76" fill="rgb(69,115,138)" fill-opacity="0.882"/><rect x="1344" y="523.12" width="4" height="4.76" fill="rgb(230,153,122)" fill-opacity="0.882"/><rect x="1348" y="523.12" width="17" height="4.76" fill="rgb(69,115,138)" fill-opacity="0.882"/><rect x="1365" y="523.12" width="12" height="4.76" fill="rgb(230,153,122)" fill-opacity="0.882"/><rect x="1377" y="523.12" width="28" height="4.76" fill="rgb(69,115,138)" fill-opacity="0.882"/><rect x="1405" y="523.12" width="6" height="4.76" fill="rgb(230,153,122)" fill-opacity="0.882"/><rect x="1411" y="523.12" width="13" height="4.76" fill="rgb(69,115,138)" fill-opacity="0.882"/><rect x="1424" y="523.12" width="2" height="4.76" fill="rgb(230,153,122)" fill-opacity="0.882"/><rect x="1426" y="523.12" width="10" height="4.76" fill="rgb(69,115,138)" fill-opacity="0.882"/><rect x="1436" y="523.12" width="8" height="4.76" fill="rgb(230,153,122)" fill-opacity="0.882"/><rect x="1444" y="523.12" width="34" height="4.76" fill="rgb(69,115,138)" fill-opacity="0.882"/><rect x="1478" y="523.12" width="4" height="4.76" fill="rgb(230,153,122)" fill-opacity="0.882"/><rect x="1482" y="523.12" width="17" height="4.76" fill="rgb(69,115,138)" fill-opacity="0.882"/><rect x="1499" y="523.12" width="2" height="4.76" fill="rgb(230,153,122)" fill-opacity="0.882"/><rect x="1501" y="523.12" width="15" height="4.76" fill="rgb(69,115,138)" fill-opacity="0.882"/><rect x="1516" y="523.12" width="6" height="4.76" fill="rgb(230,153,122)" fill-opacity="0.882"/><rect x="1522" y="523.12" width="63" height="4.76" fill="rgb(69,115,138)" fill-opacity="0.882"/><rect x="1585" y="523.12" width="2" height="4.76" fill="rgb(230,153,122)" fill-opacity="0.882"/><rect x="1587" y="523.12" width="63" height="4.76" fill="rgb(69,115,138)" fill-opacity="0.882"/><rect x="1650" y="523.12" width="4" height="4.76" fill="rgb(230,153,122)" fill-opacity="0.882"/><rect x="1654" y="523.12" width="25" height="4.76" fill="rgb(69,115,138)" fill-opacity="0.882"/><rect x="1679" y="523.12" width="11" height="4.76" fill="rgb(230,153,122)" fill-opacity="0.882"/><rect x="1690" y="523.12" width="2.6" height="4.76" fill="rgb(69,115,138)" fill-opacity="0.882"/><rect x="204.4" y="527.88" width="97.6" height="4.76" fill="rgb(69,89,133)" fill-opacity="0.639"/><rect x="302" y="527.88" width="6" height="4.76" fill="rgb(230,153,122)" fill-opacity="0.639"/><rect x="308" y="527.88" width="19" height="4.76" fill="rgb(69,89,133)" fill-opacity="0.639"/><rect x="327" y="527.88" width="13" height="4.76" fill="rgb(230,153,122)" fill-opacity="0.639"/><rect x="340" y="527.88" width="8" height="4.76" fill="rgb(69,89,133)" fill-opacity="0.639"/><rect x="348" y="527.88" width="4" height="4.76" fill="rgb(230,153,122)" fill-opacity="0.639"/><rect x="352" y="527.88" width="180" height="4.76" fill="rgb(69,89,133)" fill-opacity="0.639"/><rect x="532" y="527.88" width="8" height="4.76" fill="rgb(230,153,122)" fill-opacity="0.639"/><rect x="540" y="527.88" width="11" height="4.76" fill="rgb(69,89,133)" fill-opacity="0.639"/><rect x="551" y="527.88" width="8" height="4.76" fill="rgb(230,153,122)" fill-opacity="0.639"/><rect x="559" y="527.88" width="44" height="4.76" fill="rgb(69,89,133)" fill-opacity="0.639"/><rect x="603" y="527.88" width="8" height="4.76" fill="rgb(230,153,122)" fill-opacity="0.639"/><rect x="611" y="527.88" width="17" height="4.76" fill="rgb(69,89,133)" fill-opacity="0.639"/><rect x="628" y="527.88" width="8" height="4.76" fill="rgb(230,153,122)" fill-opacity="0.639"/><rect x="636" y="527.88" width="17" height="4.76" fill="rgb(69,89,133)" fill-opacity="0.639"/><rect x="653" y="527.88" width="8" height="4.76" fill="rgb(230,153,122)" fill-opacity="0.639"/><rect x="661" y="527.88" width="46" height="4.76" fill="rgb(69,89,133)" fill-opacity="0.639"/><rect x="707" y="527.88" width="17" height="4.76" fill="rgb(230,153,122)" fill-opacity="0.639"/><rect x="724" y="527.88" width="25" height="4.76" fill="rgb(69,89,133)" fill-opacity="0.639"/><rect x="749" y="527.88" width="8" height="4.76" fill="rgb(230,153,122)" fill-opacity="0.639"/><rect x="757" y="527.88" width="101" height="4.76" fill="rgb(69,89,133)" fill-opacity="0.639"/><rect x="858" y="527.88" width="12" height="4.76" fill="rgb(230,153,122)" fill-opacity="0.639"/><rect x="870" y="527.88" width="6" height="4.76" fill="rgb(69,89,133)" fill-opacity="0.639"/><rect x="876" y="527.88" width="7" height="4.76" fill="rgb(230,153,122)" fill-opacity="0.639"/><rect x="883" y="527.88" width="56" height="4.76" fill="rgb(69,89,133)" fill-opacity="0.639"/><rect x="939" y="527.88" width="6" height="4.76" fill="rgb(230,153,122)" fill-opacity="0.639"/><rect x="945" y="527.88" width="133" height="4.76" fill="rgb(69,89,133)" fill-opacity="0.639"/><rect x="1078" y="527.88" width="6" height="4.76" fill="rgb(230,153,122)" fill-opacity="0.639"/><rect x="1084" y="527.88" width="11" height="4.76" fill="rgb(69,89,133)" fill-opacity="0.639"/><rect x="1095" y="527.88" width="14" height="4.76" fill="rgb(230,153,122)" fill-opacity="0.639"/><rect x="1109" y="527.88" width="84" height="4.76" fill="rgb(69,89,133)" fill-opacity="0.639"/><rect x="1193" y="527.88" width="11" height="4.76" fill="rgb(230,153,122)" fill-opacity="0.639"/><rect x="1204" y="527.88" width="10" height="4.76" fill="rgb(69,89,133)" fill-opacity="0.639"/><rect x="1214" y="527.88" width="8" height="4.76" fill="rgb(230,153,122)" fill-opacity="0.639"/><rect x="1222" y="527.88" width="46" height="4.76" fill="rgb(69,89,133)" fill-opacity="0.639"/><rect x="1268" y="527.88" width="13" height="4.76" fill="rgb(230,153,122)" fill-opacity="0.639"/><rect x="1281" y="527.88" width="13" height="4.76" fill="rgb(69,89,133)" fill-opacity="0.639"/><rect x="1294" y="527.88" width="8" height="4.76" fill="rgb(230,153,122)" fill-opacity="0.639"/><rect x="1302" y="527.88" width="13" height="4.76" fill="rgb(69,89,133)" fill-opacity="0.639"/><rect x="1315" y="527.88" width="8" height="4.76" fill="rgb(230,153,122)" fill-opacity="0.639"/><rect x="1323" y="527.88" width="21" height="4.76" fill="rgb(69,89,133)" fill-opacity="0.639"/><rect x="1344" y="527.88" width="4" height="4.76" fill="rgb(230,153,122)" fill-opacity="0.639"/><rect x="1348" y="527.88" width="17" height="4.76" fill="rgb(69,89,133)" fill-opacity="0.639"/><rect x="1365" y="527.88" width="12" height="4.76" fill="rgb(230,153,122)" fill-opacity="0.639"/><rect x="1377" y="527.88" width="28" height="4.76" fill="rgb(69,89,133)" fill-opacity="0.639"/><rect x="1405" y="527.88" width="6" height="4.76" fill="rgb(230,153,122)" fill-opacity="0.639"/><rect x="1411" y="527.88" width="13" height="4.76" fill="rgb(69,89,133)" fill-opacity="0.639"/><rect x="1424" y="527.88" width="2" height="4.76" fill="rgb(230,153,122)" fill-opacity="0.639"/><rect x="1426" y="527.88" width="10" height="4.76" fill="rgb(69,89,133)" fill-opacity="0.639"/><rect x="1436" y="527.88" width="8" height="4.76" fill="rgb(230,153,122)" fill-opacity="0.639"/><rect x="1444" y="527.88" width="34" height="4.76" fill="rgb(69,89,133)" fill-opacity="0.639"/><rect x="1478" y="527.88" width="4" height="4.76" fill="rgb(230,153,122)" fill-opacity="0.639"/><rect x="1482" y="527.88" width="17" height="4.76" fill="rgb(69,89,133)" fill-opacity="0.639"/><rect x="1499" y="527.88" width="2" height="4.76" fill="rgb(230,153,122)" fill-opacity="0.639"/><rect x="1501" y="527.88" width="15" height="4.76" fill="rgb(69,89,133)" fill-opacity="0.639"/><rect x="1516" y="527.88" width="6" height="4.76" fill="rgb(230,153,122)" fill-opacity="0.639"/><rect x="1522" y="527.88" width="63" height="4.76" fill="rgb(69,89,133)" fill-opacity="0.639"/><rect x="1585" y="527.88" width="2" height="4.76" fill="rgb(230,153,122)" fill-opacity="0.639"/><rect x="1587" y="527.88" width="63" height="4.76" fill="rgb(69,89,133)" fill-opacity="0.639"/><rect x="1650" y="527.88" width="4" height="4.76" fill="rgb(230,153,122)" fill-opacity="0.639"/><rect x="1654" y="527.88" width="25" height="4.76" fill="rgb(69,89,133)" fill-opacity="0.639"/><rect x="1679" y="527.88" width="11" height="4.76" fill="rgb(230,153,122)" fill-opacity="0.639"/><rect x="1690" y="527.88" width="2.6" height="4.76" fill="rgb(69,89,133)" fill-opacity="0.639"/><rect x="204.4" y="532.63" width="1488.2" height="4.76" fill="rgb(0,0,128)" fill-opacity="0.675"/><rect x="204.4" y="537.39" width="1488.2" height="4.76" fill="rgb(0,0,128)" fill-opacity="0.843"/><rect x="204.4" y="542.15" width="1488.2" height="4.76" fill="rgb(0,0,128)" fill-opacity="0.765"/><rect x="204.4" y="546.9" width="1488.2" height="4.76" fill="rgb(0,0,128)" fill-opacity="0.808"/><rect x="204.4" y="551.66" width="1488.2" height="4.76" fill="rgb(0,0,128)" fill-opacity="0.612"/><rect x="204.4" y="556.41" width="1488.2" height="4.76" fill="rgb(0,0,128)" fill-opacity="0.569"/><rect x="204.4" y="561.17" width="1488.2" height="4.76" fill="rgb(0,0,128)" fill-opacity="0.631"/><rect x="204.4" y="565.93" width="1488.2" height="4.76" fill="rgb(0,0,128)" fill-opacity="0.698"/><rect x="204.4" y="570.68" width="1488.2" height="4.76" fill="rgb(0,0,128)" fill-opacity="0.980"/><rect x="204.4" y="575.44" width="1488.2" height="4.76" fill="rgb(0,0,128)" fill-opacity="0.965"/><rect x="204.4" y="580.19" width="1488.2" height="4.76" fill="rgb(0,0,128)" fill-opacity="0.553"/><rect x="204.4" y="584.95" width="1488.2" height="4.76" fill="rgb(0,0,128)" fill-opacity="0.624"/><rect x="204.4" y="589.71" width="345.36" height="4.76" fill="rgb(128,166,128)" fill-opacity="0.663"/><rect x="549.76" y="589.71" width="1.5" height="4.76" fill="rgb(255,0,102)" fill-opacity="0.663"/><rect x="551.26" y="589.71" width="81.46" height="4.76" fill="rgb(128,166,128)" fill-opacity="0.663"/><rect x="632.72" y="589.71" width="1" height="4.76" fill="rgb(255,0,102)" fill-opacity="0.663"/><rect x="633.72" y="589.71" width="29.45" height="4.76" fill="rgb(128,166,128)" fill-opacity="0.663"/><rect x="663.17" y="589.71" width="1.5" height="4.76" fill="rgb(255,0,102)" fill-opacity="0.663"/><rect x="664.67" y="589.71" width="253.28" height="4.76" fill="rgb(128,166,128)" fill-opacity="0.663"/><rect x="917.95" y="589.71" width="2" height="4.76" fill="rgb(255,0,102)" fill-opacity="0.663"/><rect x="919.95" y="589.71" width="53.2" height="4.76" fill="rgb(128,166,128)" fill-opacity="0.663"/><rect x="973.14" y="589.71" width="2" height="4.76" fill="rgb(255,0,102)" fill-opacity="0.663"/><rect x="975.14" y="589.71" width="136.24" height="4.76" fill="rgb(128,166,128)" fill-opacity="0.663"/><rect x="1111.38" y="589.71" width="3" height="4.76" fill="rgb(255,0,102)" fill-opacity="0.663"/><rect x="1114.38" y="589.71" width="153.66" height="4.76" fill="rgb(128,166,128)" fill-opacity="0.663"/><rect x="1268.04" y="589.71" width="2" height="4.76" fill="rgb(255,0,102)" fill-opacity="0.663"/><rect x="1270.04" y="589.71" width="116.95" height="4.76" fill="rgb(128,166,128)" fill-opacity="0.663"/><rect x="1386.99" y="589.71" width="1" height="4.76" fill="rgb(255,0,102)" fill-opacity="0.663"/><rect x="1387.99" y="589.71" width="159.01" height="4.76" fill="rgb(128,166,128)" fill-opacity="0.663"/><rect x="1547" y="589.71" width="6.43" height="4.76" fill="rgb(191,255,133)" fill-opacity="0.663"/><rect x="1553.43" y="589.71" width="2" height="4.76" fill="rgb(255,0,102)" fill-opacity="0.663"/><rect x="1555.43" y="589.71" width="9.29" height="4.76" fill="rgb(191,255,133)" fill-opacity="0.663"/><rect x="1564.72" y="589.71" width="3" height="4.76" fill="rgb(255,0,102)" fill-opacity="0.663"/><rect x="1567.72" y="589.71" width="38.3" height="4.76" fill="rgb(128,166,128)" fill-opacity="0.663"/><rect x="1606.02" y="589.71" width="3" height="4.76" fill="rgb(255,0,102)" fill-opacity="0.663"/><rect x="1609.02" y="589.71" width="83.58" height="4.76" fill="rgb(128,166,128)" fill-opacity="0.663"/><rect x="204.4" y="594.46" width="35.83" height="4.76" fill="rgb(69,102,138)" fill-opacity="0.722"/><rect x="240.23" y="594.46" width="2" height="4.76" fill="rgb(255,0,102)" fill-opacity="0.722"/><rect x="242.23" y="594.46" width="83.13" height="4.76" fill="rgb(69,102,138)" fill-opacity="0.722"/><rect x="325.36" y="594.46" width="1" height="4.76" fill="rgb(255,0,102)" fill-opacity="0.722"/><rect x="326.36" y="594.46" width="103.31" height="4.76" fill="rgb(69,102,138)" fill-opacity="0.722"/><rect x="429.66" y="594.46" width="1.5" height="4.76" fill="rgb(255,0,102)" fill-opacity="0.722"/><rect x="431.16" y="594.46" width="98.22" height="4.76" fill="rgb(69,102,138)" fill-opacity="0.722"/><rect x="529.38" y="594.46" width="2" height="4.76" fill="rgb(255,0,102)" fill-opacity="0.722"/><rect x="531.38" y="594.46" width="118.87" height="4.76" fill="rgb(69,102,138)" fill-opacity="0.722"/><rect x="650.25" y="594.46" width="1.5" height="4.76" fill="rgb(255,0,102)" fill-opacity="0.722"/><rect x="651.75" y="594.46" width="250.9" height="4.76" fill="rgb(69,102,138)" fill-opacity="0.722"/><rect x="902.66" y="594.46" width="2" height="4.76" fill="rgb(255,0,102)" fill-opacity="0.722"/><rect x="904.66" y="594.46" width="93.61" height="4.76" fill="rgb(69,102,138)" fill-opacity="0.722"/><rect x="998.26" y="594.46" width="2" height="4.76" fill="rgb(255,0,102)" fill-opacity="0.722"/><rect x="1000.26" y="594.46" width="73.51" height="4.76" fill="rgb(69,102,138)" fill-opacity="0.722"/><rect x="1073.77" y="594.46" width="1" height="4.76" fill="rgb(255,0,102)" fill-opacity="0.722"/><rect x="1074.77" y="594.46" width="40.03" height="4.76" fill="rgb(69,102,138)" fill-opacity="0.722"/><rect x="1114.8" y="594.46" width="1.5" height="4.76" fill="rgb(255,0,102)" fill-opacity="0.722"/><rect x="1116.3" y="594.46" width="0.25" height="4.76" fill="rgb(255,0,102)" fill-opacity="0.722"/><rect x="1116.56" y="594.46" width="29.46" height="4.76" fill="rgb(69,102,138)" fill-opacity="0.722"/><rect x="1146.02" y="594.46" width="1" height="4.76" fill="rgb(255,0,102)" fill-opacity="0.722"/><rect x="1147.02" y="594.46" width="202.99" height="4.76" fill="rgb(69,102,138)" fill-opacity="0.722"/><rect x="1350.01" y="594.46" width="2" height="4.76" fill="rgb(255,0,102)" fill-opacity="0.722"/><rect x="1352.01" y="594.46" width="66.76" height="4.76" fill="rgb(69,102,138)" fill-opacity="0.722"/><rect x="1418.77" y="594.46" width="1.5" height="4.76" fill="rgb(255,0,102)" fill-opacity="0.722"/><rect x="1420.27" y="594.46" width="126.73" height="4.76" fill="rgb(69,102,138)" fill-opacity="0.722"/><rect x="1547" y="594.46" width="20" height="4.76" fill="rgb(191,255,133)" fill-opacity="0.722"/><rect x="1567" y="594.46" width="33.04" height="4.76" fill="rgb(69,102,138)" fill-opacity="0.722"/><rect x="1600.04" y="594.46" width="2" height="4.76" fill="rgb(255,0,102)" fill-opacity="0.722"/><rect x="1602.04" y="594.46" width="65.9" height="4.76" fill="rgb(69,102,138)" fill-opacity="0.722"/><rect x="1667.94" y="594.46" width="3" height="4.76" fill="rgb(255,0,102)" fill-opacity="0.722"/><rect x="1670.94" y="594.46" width="21.66" height="4.76" fill="rgb(69,102,138)" fill-opacity="0.722"/><rect x="204.4" y="599.22" width="59.71" height="4.76" fill="rgb(69,115,122)" fill-opacity="0.820"/><rect x="264.11" y="599.22" width="1" height="4.76" fill="rgb(255,0,102)" fill-opacity="0.820"/><rect x="265.11" y="599.22" width="9.93" height="4.76" fill="rgb(69,115,122)" fill-opacity="0.820"/><rect x="275.04" y="599.22" width="1.5" height="4.76" fill="rgb(255,0,102)" fill-opacity="0.820"/><rect x="276.54" y="599.22" width="7.38" height="4.76" fill="rgb(69,115,122)" fill-opacity="0.820"/><rect x="283.92" y="599.22" width="1" height="4.76" fill="rgb(255,0,102)" fill-opacity="0.820"/><rect x="284.92" y="599.22" width="9.41" height="4.76" fill="rgb(69,115,122)" fill-opacity="0.820"/><rect x="294.33" y="599.22" width="1.5" height="4.76" fill="rgb(255,0,102)" fill-opacity="0.820"/><rect x="295.83" y="599.22" width="0.08" height="4.76" fill="rgb(69,115,122)" fill-opacity="0.820"/><rect x="295.91" y="599.22" width="2" height="4.76" fill="rgb(255,0,102)" fill-opacity="0.820"/><rect x="297.91" y="599.22" width="7.9" height="4.76" fill="rgb(69,115,122)" fill-opacity="0.820"/><rect x="305.81" y="599.22" width="1.5" height="4.76" fill="rgb(255,0,102)" fill-opacity="0.820"/><rect x="307.31" y="599.22" width="20" height="4.76" fill="rgb(69,115,122)" fill-opacity="0.820"/><rect x="327.31" y="599.22" width="2" height="4.76" fill="rgb(255,0,102)" fill-opacity="0.820"/><rect x="329.31" y="599.22" width="21.08" height="4.76" fill="rgb(69,115,122)" fill-opacity="0.820"/><rect x="350.39" y="599.22" width="1" height="4.76" fill="rgb(255,0,102)" fill-opacity="0.820"/><rect x="351.39" y="599.22" width="36.66" height="4.76" fill="rgb(69,115,122)" fill-opacity="0.820"/><rect x="388.05" y="599.22" width="3" height="4.76" fill="rgb(255,0,102)" fill-opacity="0.820"/><rect x="391.05" y="599.22" width="28.53" height="4.76" fill="rgb(69,115,122)" fill-opacity="0.820"/><rect x="419.58" y="599.22" width="2" height="4.76" fill="rgb(255,0,102)" fill-opacity="0.820"/><rect x="421.58" y="599.22" width="8.59" height="4.76" fill="rgb(69,115,122)" fill-opacity="0.820"/><rect x="430.17" y="599.22" width="1" height="4.76" fill="rgb(255,0,102)" fill-opacity="0.820"/><rect x="431.17" y="599.22" width="0.07" height="4.76" fill="rgb(69,115,122)" fill-opacity="0.820"/><rect x="431.24" y="599.22" width="3" height="4.76" fill="rgb(255,0,102)" fill-opacity="0.820"/><rect x="434.24" y="599.22" width="12.29" height="4.76" fill="rgb(69,115,122)" fill-opacity="0.820"/><rect x="446.53" y="599.22" width="2" height="4.76" fill="rgb(255,0,102)" fill-opacity="0.820"/><rect x="448.53" y="599.22" width="4.02" height="4.76" fill="rgb(69,115,122)" fill-opacity="0.820"/><rect x="452.55" y="599.22" width="3" height="4.76" fill="rgb(255,0,102)" fill-opacity="0.820"/><rect x="455.55" y="599.22" width="134.54" height="4.76" fill="rgb(69,115,122)" fill-opacity="0.820"/><rect x="590.1" y="599.22" width="2" height="4.76" fill="rgb(255,0,102)" fill-opacity="0.820"/><rect x="592.1" y="599.22" width="25.66" height="4.76" fill="rgb(69,115,122)" fill-opacity="0.820"/><rect x="617.76" y="599.22" width="1.5" height="4.76" fill="rgb(255,0,102)" fill-opacity="0.820"/><rect x="619.26" y="599.22" width="4.56" height="4.76" fill="rgb(69,115,122)" fill-opacity="0.820"/><rect x="623.82" y="599.22" width="1.5" height="4.76" fill="rgb(255,0,102)" fill-opacity="0.820"/><rect x="625.32" y="599.22" width="22.45" height="4.76" fill="rgb(69,115,122)" fill-opacity="0.820"/><rect x="647.77" y="599.22" width="1" height="4.76" fill="rgb(255,0,102)" fill-opacity="0.820"/><rect x="648.77" y="599.22" width="148.52" height="4.76" fill="rgb(69,115,122)" fill-opacity="0.820"/><rect x="797.29" y="599.22" width="1" height="4.76" fill="rgb(255,0,102)" fill-opacity="0.820"/><rect x="798.29" y="599.22" width="28.88" height="4.76" fill="rgb(69,115,122)" fill-opacity="0.820"/><rect x="827.16" y="599.22" width="1" height="4.76" fill="rgb(255,0,102)" fill-opacity="0.820"/><rect x="828.16" y="599.22" width="67.86" height="4.76" fill="rgb(69,115,122)" fill-opacity="0.820"/><rect x="896.02" y="599.22" width="3" height="4.76" fill="rgb(255,0,102)" fill-opacity="0.820"/><rect x="899.02" y="599.22" width="16.3" height="4.76" fill="rgb(69,115,122)" fill-opacity="0.820"/><rect x="915.32" y="599.22" width="1.5" height="4.76" fill="rgb(255,0,102)" fill-opacity="0.820"/><rect x="916.82" y="599.22" width="4.47" height="4.76" fill="rgb(69,115,122)" fill-opacity="0.820"/><rect x="921.29" y="599.22" width="1" height="4.76" fill="rgb(255,0,102)" fill-opacity="0.820"/><rect x="922.29" y="599.22" width="2.42" height="4.76" fill="rgb(69,115,122)" fill-opacity="0.820"/><rect x="924.71" y="599.22" width="1.5" height="4.76" fill="rgb(255,0,102)" fill-opacity="0.820"/><rect x="926.21" y="599.22" width="13.55" height="4.76" fill="rgb(69,115,122)" fill-opacity="0.820"/><rect x="939.76" y="599.22" width="2" height="4.76" fill="rgb(255,0,102)" fill-opacity="0.820"/><rect x="941.76" y="599.22" width="22.92" height="4.76" fill="rgb(69,115,122)" fill-opacity="0.820"/><rect x="964.68" y="599.22" width="1.5" height="4.76" fill="rgb(255,0,102)" fill-opacity="0.820"/><rect x="966.18" y="599.22" width="8.08" height="4.76" fill="rgb(69,115,122)" fill-opacity="0.820"/><rect x="974.26" y="599.22" width="1.5" height="4.76" fill="rgb(255,0,102)" fill-opacity="0.820"/><rect x="975.76" y="599.22" width="79.46" height="4.76" fill="rgb(69,115,122)" fill-opacity="0.820"/><rect x="1055.22" y="599.22" width="2" height="4.76" fill="rgb(255,0,102)" fill-opacity="0.820"/><rect x="1057.22" y="599.22" width="10.71" height="4.76" fill="rgb(69,115,122)" fill-opacity="0.820"/><rect x="1067.93" y="599.22" width="1.5" height="4.76" fill="rgb(255,0,102)" fill-opacity="0.820"/><rect x="1069.43" y="599.22" width="46.62" height="4.76" fill="rgb(69,115,122)" fill-opacity="0.820"/><rect x="1116.05" y="599.22" width="1.5" height="4.76" fill="rgb(255,0,102)" fill-opacity="0.820"/><rect x="1117.55" y="599.22" width="96.8" height="4.76" fill="rgb(69,115,122)" fill-opacity="0.820"/><rect x="1214.35" y="599.22" width="3" height="4.76" fill="rgb(255,0,102)" fill-opacity="0.820"/><rect x="1217.35" y="599.22" width="11.33" height="4.76" fill="rgb(69,115,122)" fill-opacity="0.820"/><rect x="1228.68" y="599.22" width="1" height="4.76" fill="rgb(255,0,102)" fill-opacity="0.820"/><rect x="1229.68" y="599.22" width="0.63" height="4.76" fill="rgb(255,0,102)" fill-opacity="0.820"/><rect x="1230.31" y="599.22" width="6.12" height="4.76" fill="rgb(69,115,122)" fill-opacity="0.820"/><rect x="1236.43" y="599.22" width="3" height="4.76" fill="rgb(255,0,102)" fill-opacity="0.820"/><rect x="1239.43" y="599.22" width="60.83" height="4.76" fill="rgb(69,115,122)" fill-opacity="0.820"/><rect x="1300.25" y="599.22" width="3" height="4.76" fill="rgb(255,0,102)" fill-opacity="0.820"/><rect x="1303.25" y="599.22" width="62.12" height="4.76" fill="rgb(69,115,122)" fill-opacity="0.820"/><rect x="1365.37" y="599.22" width="1.5" height="4.76" fill="rgb(255,0,102)" fill-opacity="0.820"/><rect x="1366.87" y="599.22" width="37.42" height="4.76" fill="rgb(69,115,122)" fill-opacity="0.820"/><rect x="1404.29" y="599.22" width="2" height="4.76" fill="rgb(255,0,102)" fill-opacity="0.820"/><rect x="1406.29" y="599.22" width="36.66" height="4.76" fill="rgb(69,115,122)" fill-opacity="0.820"/><rect x="1442.95" y="599.22" width="1" height="4.76" fill="rgb(255,0,102)" fill-opacity="0.820"/><rect x="1443.95" y="599.22" width="42.48" height="4.76" fill="rgb(69,115,122)" fill-opacity="0.820"/><rect x="1486.42" y="599.22" width="2" height="4.76" fill="rgb(255,0,102)" fill-opacity="0.820"/><rect x="1488.42" y="599.22" width="35.09" height="4.76" fill="rgb(69,115,122)" fill-opacity="0.820"/><rect x="1523.51" y="599.22" width="3" height="4.76" fill="rgb(255,0,102)" fill-opacity="0.820"/><rect x="1526.51" y="599.22" width="12.59" height="4.76" fill="rgb(69,115,122)" fill-opacity="0.820"/><rect x="1539.11" y="599.22" width="3" height="4.76" fill="rgb(255,0,102)" fill-opacity="0.820"/><rect x="1542.11" y="599.22" width="4.89" height="4.76" fill="rgb(69,115,122)" fill-opacity="0.820"/><rect x="1547" y="599.22" width="20" height="4.76" fill="rgb(191,255,133)" fill-opacity="0.820"/><rect x="1567" y="599.22" width="55" height="4.76" fill="rgb(69,115,122)" fill-opacity="0.820"/><rect x="1622" y="599.22" width="2" height="4.76" fill="rgb(255,0,102)" fill-opacity="0.820"/><rect x="1624" y="599.22" width="48.59" height="4.76" fill="rgb(69,115,122)" fill-opacity="0.820"/><rect x="1672.59" y="599.22" width="2" height="4.76" fill="rgb(255,0,102)" fill-opacity="0.820"/><rect x="1674.59" y="599.22" width="3.18" height="4.76" fill="rgb(69,115,122)" fill-opacity="0.820"/><rect x="1677.77" y="599.22" width="3" height="4.76" fill="rgb(255,0,102)" fill-opacity="0.820"/><rect x="1680.77" y="599.22" width="11.83" height="4.76" fill="rgb(69,115,122)" fill-opacity="0.820"/><rect x="204.4" y="603.97" width="59.71" height="4.76" fill="rgb(69,115,122)" fill-opacity="0.820"/><rect x="264.11" y="603.97" width="1" height="4.76" fill="rgb(255,0,102)" fill-opacity="0.820"/><rect x="265.11" y="603.97" width="9.93" height="4.76" fill="rgb(69,115,122)" fill-opacity="0.820"/><rect x="275.04" y="603.97" width="1.5" height="4.76" fill="rgb(255,0,102)" fill-opacity="0.820"/><rect x="276.54" y="603.97" width="7.38" height="4.76" fill="rgb(69,115,122)" fill-opacity="0.820"/><rect x="283.92" y="603.97" width="1" height="4.76" fill="rgb(255,0,102)" fill-opacity="0.820"/><rect x="284.92" y="603.97" width="9.41" height="4.76" fill="rgb(69,115,122)" fill-opacity="0.820"/><rect x="294.33" y="603.97" width="1.5" height="4.76" fill="rgb(255,0,102)" fill-opacity="0.820"/><rect x="295.83" y="603.97" width="0.08" height="4.76" fill="rgb(69,115,122)" fill-opacity="0.820"/><rect x="295.91" y="603.97" width="2" height="4.76" fill="rgb(255,0,102)" fill-opacity="0.820"/><rect x="297.91" y="603.97" width="7.9" height="4.76" fill="rgb(69,115,122)" fill-opacity="0.820"/><rect x="305.81" y="603.97" width="1.5" height="4.76" fill="rgb(255,0,102)" fill-opacity="0.820"/><rect x="307.31" y="603.97" width="20" height="4.76" fill="rgb(69,115,122)" fill-opacity="0.820"/><rect x="327.31" y="603.97" width="2" height="4.76" fill="rgb(255,0,102)" fill-opacity="0.820"/><rect x="329.31" y="603.97" width="21.08" height="4.76" fill="rgb(69,115,122)" fill-opacity="0.820"/><rect x="350.39" y="603.97" width="1" height="4.76" fill="rgb(255,0,102)" fill-opacity="0.820"/><rect x="351.39" y="603.97" width="36.66" height="4.76" fill="rgb(69,115,122)" fill-opacity="0.820"/><rect x="388.05" y="603.97" width="3" height="4.76" fill="rgb(255,0,102)" fill-opacity="0.820"/><rect x="391.05" y="603.97" width="28.53" height="4.76" fill="rgb(69,115,122)" fill-opacity="0.820"/><rect x="419.58" y="603.97" width="2" height="4.76" fill="rgb(255,0,102)" fill-opacity="0.820"/><rect x="421.58" y="603.97" width="8.59" height="4.76" fill="rgb(69,115,122)" fill-opacity="0.820"/><rect x="430.17" y="603.97" width="1" height="4.76" fill="rgb(255,0,102)" fill-opacity="0.820"/><rect x="431.17" y="603.97" width="0.07" height="4.76" fill="rgb(69,115,122)" fill-opacity="0.820"/><rect x="431.24" y="603.97" width="3" height="4.76" fill="rgb(255,0,102)" fill-opacity="0.820"/><rect x="434.24" y="603.97" width="12.29" height="4.76" fill="rgb(69,115,122)" fill-opacity="0.820"/><rect x="446.53" y="603.97" width="2" height="4.76" fill="rgb(255,0,102)" fill-opacity="0.820"/><rect x="448.53" y="603.97" width="4.02" height="4.76" fill="rgb(69,115,122)" fill-opacity="0.820"/><rect x="452.55" y="603.97" width="3" height="4.76" fill="rgb(255,0,102)" fill-opacity="0.820"/><rect x="455.55" y="603.97" width="134.54" height="4.76" fill="rgb(69,115,122)" fill-opacity="0.820"/><rect x="590.1" y="603.97" width="2" height="4.76" fill="rgb(255,0,102)" fill-opacity="0.820"/><rect x="592.1" y="603.97" width="25.66" height="4.76" fill="rgb(69,115,122)" fill-opacity="0.820"/><rect x="617.76" y="603.97" width="1.5" height="4.76" fill="rgb(255,0,102)" fill-opacity="0.820"/><rect x="619.26" y="603.97" width="4.56" height="4.76" fill="rgb(69,115,122)" fill-opacity="0.820"/><rect x="623.82" y="603.97" width="1.5" height="4.76" fill="rgb(255,0,102)" fill-opacity="0.820"/><rect x="625.32" y="603.97" width="22.45" height="4.76" fill="rgb(69,115,122)" fill-opacity="0.820"/><rect x="647.77" y="603.97" width="1" height="4.76" fill="rgb(255,0,102)" fill-opacity="0.820"/><rect x="648.77" y="603.97" width="148.52" height="4.76" fill="rgb(69,115,122)" fill-opacity="0.820"/><rect x="797.29" y="603.97" width="1" height="4.76" fill="rgb(255,0,102)" fill-opacity="0.820"/><rect x="798.29" y="603.97" width="28.88" height="4.76" fill="rgb(69,115,122)" fill-opacity="0.820"/><rect x="827.16" y="603.97" width="1" height="4.76" fill="rgb(255,0,102)" fill-opacity="0.820"/><rect x="828.16" y="603.97" width="67.86" height="4.76" fill="rgb(69,115,122)" fill-opacity="0.820"/><rect x="896.02" y="603.97" width="3" height="4.76" fill="rgb(255,0,102)" fill-opacity="0.820"/><rect x="899.02" y="603.97" width="16.3" height="4.76" fill="rgb(69,115,122)" fill-opacity="0.820"/><rect x="915.32" y="603.97" width="1.5" height="4.76" fill="rgb(255,0,102)" fill-opacity="0.820"/><rect x="916.82" y="603.97" width="4.47" height="4.76" fill="rgb(69,115,122)" fill-opacity="0.820"/><rect x="921.29" y="603.97" width="1" height="4.76" fill="rgb(255,0,102)" fill-opacity="0.820"/><rect x="922.29" y="603.97" width="2.42" height="4.76" fill="rgb(69,115,122)" fill-opacity="0.820"/><rect x="924.71" y="603.97" width="1.5" height="4.76" fill="rgb(255,0,102)" fill-opacity="0.820"/><rect x="926.21" y="603.97" width="13.55" height="4.76" fill="rgb(69,115,122)" fill-opacity="0.820"/><rect x="939.76" y="603.97" width="2" height="4.76" fill="rgb(255,0,102)" fill-opacity="0.820"/><rect x="941.76" y="603.97" width="22.92" height="4.76" fill="rgb(69,115,122)" fill-opacity="0.820"/><rect x="964.68" y="603.97" width="1.5" height="4.76" fill="rgb(255,0,102)" fill-opacity="0.820"/><rect x="966.18" y="603.97" width="8.08" height="4.76" fill="rgb(69,115,122)" fill-opacity="0.820"/><rect x="974.26" y="603.97" width="1.5" height="4.76" fill="rgb(255,0,102)" fill-opacity="0.820"/><rect x="975.76" y="603.97" width="79.46" height="4.76" fill="rgb(69,115,122)" fill-opacity="0.820"/><rect x="1055.22" y="603.97" width="2" height="4.76" fill="rgb(255,0,102)" fill-opacity="0.820"/><rect x="1057.22" y="603.97" width="10.71" height="4.76" fill="rgb(69,115,122)" fill-opacity="0.820"/><rect x="1067.93" y="603.97" width="1.5" height="4.76" fill="rgb(255,0,102)" fill-opacity="0.820"/><rect x="1069.43" y="603.97" width="46.62" height="4.76" fill="rgb(69,115,122)" fill-opacity="0.820"/><rect x="1116.05" y="603.97" width="1.5" height="4.76" fill="rgb(255,0,102)" fill-opacity="0.820"/><rect x="1117.55" y="603.97" width="96.8" height="4.76" fill="rgb(69,115,122)" fill-opacity="0.820"/><rect x="1214.35" y="603.97" width="3" height="4.76" fill="rgb(255,0,102)" fill-opacity="0.820"/><rect x="1217.35" y="603.97" width="11.33" height="4.76" fill="rgb(69,115,122)" fill-opacity="0.820"/><rect x="1228.68" y="603.97" width="1" height="4.76" fill="rgb(255,0,102)" fill-opacity="0.820"/><rect x="1229.68" y="603.97" width="0.63" height="4.76" fill="rgb(255,0,102)" fill-opacity="0.820"/><rect x="1230.31" y="603.97" width="6.12" height="4.76" fill="rgb(69,115,122)" fill-opacity="0.820"/><rect x="1236.43" y="603.97" width="3" height="4.76" fill="rgb(255,0,102)" fill-opacity="0.820"/><rect x="1239.43" y="603.97" width="60.83" height="4.76" fill="rgb(69,115,122)" fill-opacity="0.820"/><rect x="1300.25" y="603.97" width="3" height="4.76" fill="rgb(255,0,102)" fill-opacity="0.820"/><rect x="1303.25" y="603.97" width="62.12" height="4.76" fill="rgb(69,115,122)" fill-opacity="0.820"/><rect x="1365.37" y="603.97" width="1.5" height="4.76" fill="rgb(255,0,102)" fill-opacity="0.820"/><rect x="1366.87" y="603.97" width="37.42" height="4.76" fill="rgb(69,115,122)" fill-opacity="0.820"/><rect x="1404.29" y="603.97" width="2" height="4.76" fill="rgb(255,0,102)" fill-opacity="0.820"/><rect x="1406.29" y="603.97" width="36.66" height="4.76" fill="rgb(69,115,122)" fill-opacity="0.820"/><rect x="1442.95" y="603.97" width="1" height="4.76" fill="rgb(255,0,102)" fill-opacity="0.820"/><rect x="1443.95" y="603.97" width="42.48" height="4.76" fill="rgb(69,115,122)" fill-opacity="0.820"/><rect x="1486.42" y="603.97" width="2" height="4.76" fill="rgb(255,0,102)" fill-opacity="0.820"/><rect x="1488.42" y="603.97" width="35.09" height="4.76" fill="rgb(69,115,122)" fill-opacity="0.820"/><rect x="1523.51" y="603.97" width="3" height="4.76" fill="rgb(255,0,102)" fill-opacity="0.820"/><rect x="1526.51" y="603.97" width="12.59" height="4.76" fill="rgb(69,115,122)" fill-opacity="0.820"/><rect x="1539.11" y="603.97" width="3" height="4.76" fill="rgb(255,0,102)" fill-opacity="0.820"/><rect x="1542.11" y="603.97" width="4.89" height="4.76" fill="rgb(69,115,122)" fill-opacity="0.820"/><rect x="1547" y="603.97" width="20" height="4.76" fill="rgb(191,255,133)" fill-opacity="0.820"/><rect x="1567" y="603.97" width="55" height="4.76" fill="rgb(69,115,122)" fill-opacity="0.820"/><rect x="1622" y="603.97" width="2" height="4.76" fill="rgb(255,0,102)" fill-opacity="0.820"/><rect x="1624" y="603.97" width="48.59" height="4.76" fill="rgb(69,115,122)" fill-opacity="0.820"/><rect x="1672.59" y="603.97" width="2" height="4.76" fill="rgb(255,0,102)" fill-opacity="0.820"/><rect x="1674.59" y="603.97" width="3.18" height="4.76" fill="rgb(69,115,122)" fill-opacity="0.820"/><rect x="1677.77" y="603.97" width="3" height="4.76" fill="rgb(255,0,102)" fill-opacity="0.820"/><rect x="1680.77" y="603.97" width="11.83" height="4.76" fill="rgb(69,115,122)" fill-opacity="0.820"/><rect x="204.4" y="608.73" width="1488.2" height="4.76" fill="rgb(133,115,112)" fill-opacity="0.627"/><rect x="204.4" y="613.49" width="1488.2" height="4.76" fill="rgb(133,115,112)" fill-opacity="0.627"/><rect x="204.4" y="618.24" width="1488.2" height="4.76" fill="rgb(69,38,107)" fill-opacity="0.710"/><rect x="204.4" y="623" width="1488.2" height="4.76" fill="rgb(69,51,143)" fill-opacity="0.553"/><rect x="204.4" y="627.75" width="1488.2" height="4.76" fill="rgb(69,89,133)" fill-opacity="0.573"/><rect x="204.4" y="632.51" width="1488.2" height="4.76" fill="rgb(69,76,117)" fill-opacity="0.576"/><rect x="204.4" y="637.27" width="1488.2" height="4.76" fill="rgb(69,89,128)" fill-opacity="0.906"/><rect x="204.4" y="642.02" width="1488.2" height="4.76" fill="rgb(69,76,128)" fill-opacity="0.769"/><rect x="204.4" y="646.78" width="1488.2" height="4.76" fill="rgb(69,64,138)" fill-opacity="0.588"/><rect x="204.4" y="651.53" width="1488.2" height="4.76" fill="rgb(69,64,143)" fill-opacity="0.741"/><rect x="204.4" y="656.29" width="1488.2" height="4.76" fill="rgb(69,64,143)" fill-opacity="0.741"/><rect x="204.4" y="661.05" width="1488.2" height="4.76" fill="rgb(69,38,107)" fill-opacity="0.635"/><rect x="204.4" y="665.8" width="1488.2" height="4.76" fill="rgb(69,38,107)" fill-opacity="0.635"/><rect x="204.4" y="670.56" width="1488.2" height="4.76" fill="rgb(69,64,138)" fill-opacity="0.553"/><rect x="204.4" y="675.31" width="1488.2" height="4.76" fill="rgb(255,89,107)" fill-opacity="0.933"/><rect x="204.4" y="680.07" width="1488.2" height="4.76" fill="rgb(191,242,128)" fill-opacity="0.906"/><rect x="204.4" y="684.83" width="1488.2" height="4.76" fill="rgb(102,140,122)" fill-opacity="0.733"/><rect x="204.4" y="689.58" width="1488.2" height="4.76" fill="rgb(255,51,112)" fill-opacity="0.655"/><rect x="204.4" y="694.34" width="1488.2" height="4.76" fill="rgb(76,140,138)" fill-opacity="0.886"/><rect x="204.4" y="699.09" width="1488.2" height="4.76" fill="rgb(69,89,133)" fill-opacity="0.804"/><rect x="204.4" y="703.85" width="1488.2" height="4.76" fill="rgb(69,89,107)" fill-opacity="0.929"/><rect x="204.4" y="708.61" width="1488.2" height="4.76" fill="rgb(69,89,128)" fill-opacity="0.608"/><rect x="204.4" y="713.36" width="1488.2" height="4.76" fill="rgb(69,38,148)" fill-opacity="0.788"/><rect x="204.4" y="718.12" width="1488.2" height="4.76" fill="rgb(69,38,148)" fill-opacity="0.859"/><rect x="204.4" y="722.87" width="1488.2" height="4.76" fill="rgb(69,64,143)" fill-opacity="0.576"/><rect x="204.4" y="727.63" width="1488.2" height="4.76" fill="rgb(69,64,138)" fill-opacity="0.553"/><rect x="204.4" y="732.39" width="1488.2" height="4.76" fill="rgb(69,76,107)" fill-opacity="0.863"/><rect x="204.4" y="737.14" width="1488.2" height="4.76" fill="rgb(69,102,143)" fill-opacity="0.792"/><rect x="204.4" y="741.9" width="1488.2" height="4.76" fill="rgb(69,102,143)" fill-opacity="0.710"/><rect x="204.4" y="746.65" width="1488.2" height="4.76" fill="rgb(0,0,128)" fill-opacity="0.933"/><rect x="204.4" y="751.41" width="1488.2" height="4.76" fill="rgb(0,0,128)" fill-opacity="0.855"/><rect x="204.4" y="756.17" width="1488.2" height="4.76" fill="rgb(0,0,128)" fill-opacity="0.757"/><rect x="204.4" y="760.92" width="1488.2" height="4.76" fill="rgb(0,0,128)" fill-opacity="0.824"/><rect x="204.4" y="765.68" width="1488.2" height="4.76" fill="rgb(0,0,128)" fill-opacity="0.647"/><rect x="204.4" y="770.43" width="1488.2" height="4.76" fill="rgb(0,0,128)" fill-opacity="0.729"/><rect x="204.4" y="775.19" width="1488.2" height="4.76" fill="rgb(0,0,128)" fill-opacity="0.933"/><rect x="204.4" y="779.95" width="1488.2" height="4.76" fill="rgb(0,0,128)" fill-opacity="0.878"/><rect x="204.4" y="784.7" width="1488.2" height="4.76" fill="rgb(0,0,128)" fill-opacity="0.898"/><rect x="204.4" y="789.46" width="1488.2" height="4.76" fill="rgb(0,0,128)" fill-opacity="0.608"/><rect x="204.4" y="794.21" width="1488.2" height="4.76" fill="rgb(0,0,128)" fill-opacity="0.827"/><rect x="204.4" y="798.97" width="1488.2" height="4.76" fill="rgb(0,0,128)" fill-opacity="0.624"/><rect x="204.4" y="803.73" width="1488.2" height="4.76" fill="rgb(0,0,128)" fill-opacity="0.588"/><rect x="204.4" y="808.48" width="1488.2" height="4.76" fill="rgb(0,0,128)" fill-opacity="0.796"/><rect x="204.4" y="813.24" width="1488.2" height="4.76" fill="rgb(69,102,138)" fill-opacity="0.631"/><rect x="204.4" y="817.99" width="1488.2" height="4.76" fill="rgb(69,64,148)" fill-opacity="0.996"/><rect x="204.4" y="822.75" width="1488.2" height="4.76" fill="rgb(0,0,128)" fill-opacity="0.714"/><rect x="204.4" y="827.51" width="1488.2" height="4.76" fill="rgb(0,0,128)" fill-opacity="0.663"/><rect x="204.4" y="832.26" width="1488.2" height="4.76" fill="rgb(0,0,128)" fill-opacity="0.651"/><rect x="204.4" y="837.02" width="1488.2" height="4.76" fill="rgb(0,0,128)" fill-opacity="0.627"/><rect x="204.4" y="841.77" width="1488.2" height="4.76" fill="rgb(0,0,128)" fill-opacity="0.627"/><rect x="204.4" y="846.53" width="1488.2" height="4.76" fill="rgb(0,0,128)" fill-opacity="0.690"/><rect x="204.4" y="851.29" width="1488.2" height="4.76" fill="rgb(69,51,143)" fill-opacity="0.624"/><rect x="204.4" y="856.04" width="1488.2" height="4.76" fill="rgb(69,89,122)" fill-opacity="0.816"/><rect x="204.4" y="860.8" width="1488.2" height="4.76" fill="rgb(69,89,128)" fill-opacity="0.592"/><rect x="204.4" y="865.55" width="1488.2" height="4.76" fill="rgb(69,89,122)" fill-opacity="0.808"/><rect x="204.4" y="870.31" width="1488.2" height="4.76" fill="rgb(69,64,117)" fill-opacity="0.898"/><rect x="204.4" y="875.07" width="1488.2" height="4.76" fill="rgb(69,76,122)" fill-opacity="0.549"/><rect x="204.4" y="879.82" width="1488.2" height="4.76" fill="rgb(133,76,112)" fill-opacity="0.620"/><rect x="204.4" y="884.58" width="1488.2" height="4.76" fill="rgb(69,102,143)" fill-opacity="0.549"/><rect x="204.4" y="889.33" width="1488.2" height="4.76" fill="rgb(69,102,143)" fill-opacity="0.878"/><rect x="204.4" y="894.09" width="1488.2" height="4.76" fill="rgb(128,242,133)" fill-opacity="0.796"/><rect x="204.4" y="898.85" width="1488.2" height="4.76" fill="rgb(69,102,133)" fill-opacity="0.992"/><rect x="204.4" y="903.6" width="1488.2" height="4.76" fill="rgb(69,76,148)" fill-opacity="0.639"/><rect x="204.4" y="908.36" width="1488.2" height="4.76" fill="rgb(69,64,143)" fill-opacity="0.965"/><rect x="204.4" y="913.11" width="1488.2" height="4.76" fill="rgb(133,64,107)" fill-opacity="0.851"/><rect x="204.4" y="917.87" width="1488.2" height="4.76" fill="rgb(133,64,107)" fill-opacity="0.851"/><rect x="204.4" y="922.63" width="1488.2" height="4.76" fill="rgb(69,64,107)" fill-opacity="0.973"/><rect x="204.4" y="927.38" width="1488.2" height="4.76" fill="rgb(69,38,148)" fill-opacity="0.596"/><rect x="204.4" y="932.14" width="1488.2" height="4.76" fill="rgb(69,51,143)" fill-opacity="0.678"/><rect x="204.4" y="936.89" width="1488.2" height="4.76" fill="rgb(69,51,138)" fill-opacity="0.800"/><rect x="204.4" y="941.65" width="1488.2" height="4.76" fill="rgb(69,76,122)" fill-opacity="0.925"/><rect x="204.4" y="946.41" width="1488.2" height="4.76" fill="rgb(69,38,107)" fill-opacity="0.749"/><rect x="204.4" y="951.16" width="1488.2" height="4.76" fill="rgb(69,115,148)" fill-opacity="0.580"/><rect x="204.4" y="955.92" width="1488.2" height="4.76" fill="rgb(69,38,148)" fill-opacity="0.945"/><rect x="204.4" y="960.67" width="1488.2" height="4.76" fill="rgb(69,64,117)" fill-opacity="0.925"/><rect x="204.4" y="965.43" width="1488.2" height="4.76" fill="rgb(69,76,148)" fill-opacity="0.776"/><rect x="204.4" y="970.19" width="1488.2" height="4.76" fill="rgb(69,76,143)" fill-opacity="0.757"/><rect x="204.4" y="974.94" width="1488.2" height="4.76" fill="rgb(69,76,122)" fill-opacity="0.639"/><rect x="204.4" y="979.7" width="1488.2" height="4.76" fill="rgb(133,89,107)" fill-opacity="0.671"/><rect x="204.4" y="984.45" width="1488.2" height="4.76" fill="rgb(133,89,107)" fill-opacity="0.671"/><rect x="204.4" y="989.21" width="1488.2" height="4.76" fill="rgb(133,89,107)" fill-opacity="0.671"/><rect x="204.4" y="993.97" width="1488.2" height="4.76" fill="rgb(69,89,128)" fill-opacity="0.561"/><rect x="204.4" y="998.72" width="1488.2" height="4.76" fill="rgb(69,89,128)" fill-opacity="0.733"/><rect x="204.4" y="1003.48" width="1488.2" height="4.76" fill="rgb(0,0,128)" fill-opacity="0.714"/><rect x="204.4" y="1008.23" width="1488.2" height="4.76" fill="rgb(0,0,128)" fill-opacity="0.635"/><rect x="204.4" y="1012.99" width="1488.2" height="4.76" fill="rgb(0,0,128)" fill-opacity="0.745"/><rect x="204.4" y="1017.75" width="1488.2" height="4.76" fill="rgb(0,0,128)" fill-opacity="0.635"/><rect x="204.4" y="1022.5" width="1488.2" height="4.76" fill="rgb(0,0,128)" fill-opacity="0.635"/><rect x="204.4" y="1027.26" width="1488.2" height="4.76" fill="rgb(133,191,128)" fill-opacity="0.835"/><rect x="204.4" y="1032.01" width="1488.2" height="4.76" fill="rgb(69,89,112)" fill-opacity="0.890"/><rect x="204.4" y="1036.77" width="1488.2" height="4.76" fill="rgb(69,76,112)" fill-opacity="0.890"/><rect x="204.4" y="1041.53" width="1488.2" height="4.76" fill="rgb(69,76,122)" fill-opacity="0.808"/><rect x="204.4" y="1046.28" width="1488.2" height="4.76" fill="rgb(69,76,122)" fill-opacity="0.808"/><rect x="204.4" y="1051.04" width="1488.2" height="4.76" fill="rgb(133,89,122)" fill-opacity="0.671"/><rect x="204.4" y="1055.79" width="1488.2" height="4.76" fill="rgb(0,0,128)" fill-opacity="0.753"/>
</g>
<rect x="204.4" y="109.35" width="1488.2" height="951.2" fill="none" stroke="#fff" stroke-width="3.33"/>
<g stroke="#fff" stroke-width="3.33"><line x1="204" y1="1060.55" x2="204" y2="1080.85"/><line x1="204" y1="109.35" x2="204" y2="88"/><line x1="303.13" y1="1060.55" x2="303.13" y2="1070.55"/><line x1="303.13" y1="109.35" x2="303.13" y2="99"/><line x1="402.26" y1="1060.55" x2="402.26" y2="1070.55"/><line x1="402.26" y1="109.35" x2="402.26" y2="99"/><line x1="501.39" y1="1060.55" x2="501.39" y2="1080.85"/><line x1="501.39" y1="109.35" x2="501.39" y2="88"/><line x1="600.52" y1="1060.55" x2="600.52" y2="1070.55"/><line x1="600.52" y1="109.35" x2="600.52" y2="99"/><line x1="699.65" y1="1060.55" x2="699.65" y2="1070.55"/><line x1="699.65" y1="109.35" x2="699.65" y2="99"/><line x1="798.78" y1="1060.55" x2="798.78" y2="1080.85"/><line x1="798.78" y1="109.35" x2="798.78" y2="88"/><line x1="897.91" y1="1060.55" x2="897.91" y2="1070.55"/><line x1="897.91" y1="109.35" x2="897.91" y2="99"/><line x1="997.04" y1="1060.55" x2="997.04" y2="1070.55"/><line x1="997.04" y1="109.35" x2="997.04" y2="99"/><line x1="1096.17" y1="1060.55" x2="1096.17" y2="1080.85"/><line x1="1096.17" y1="109.35" x2="1096.17" y2="88"/><line x1="1195.3" y1="1060.55" x2="1195.3" y2="1070.55"/><line x1="1195.3" y1="109.35" x2="1195.3" y2="99"/><line x1="1294.43" y1="1060.55" x2="1294.43" y2="1070.55"/><line x1="1294.43" y1="109.35" x2="1294.43" y2="99"/><line x1="1393.56" y1="1060.55" x2="1393.56" y2="1080.85"/><line x1="1393.56" y1="109.35" x2="1393.56" y2="88"/><line x1="1492.69" y1="1060.55" x2="1492.69" y2="1070.55"/><line x1="1492.69" y1="109.35" x2="1492.69" y2="99"/><line x1="1591.82" y1="1060.55" x2="1591.82" y2="1070.55"/><line x1="1591.82" y1="109.35" x2="1591.82" y2="99"/><line x1="1690.95" y1="1060.55" x2="1690.95" y2="1080.85"/><line x1="1690.95" y1="109.35" x2="1690.95" y2="88"/><line x1="204.4" y1="155" x2="182.9" y2="155"/><line x1="1692.6" y1="155" x2="1712.95" y2="155"/><line x1="204.4" y1="230.91" x2="182.9" y2="230.91"/><line x1="1692.6" y1="230.91" x2="1712.95" y2="230.91"/><line x1="204.4" y1="295.08" x2="182.9" y2="295.08"/><line x1="1692.6" y1="295.08" x2="1712.95" y2="295.08"/><line x1="204.4" y1="350.68" x2="182.9" y2="350.68"/><line x1="1692.6" y1="350.68" x2="1712.95" y2="350.68"/><line x1="204.4" y1="399.72" x2="182.9" y2="399.72"/><line x1="1692.6" y1="399.72" x2="1712.95" y2="399.72"/><line x1="204.4" y1="443.58" x2="182.9" y2="443.58"/><line x1="1692.6" y1="443.58" x2="1712.95" y2="443.58"/><line x1="204.4" y1="612.39" x2="182.9" y2="612.39"/><line x1="1692.6" y1="612.39" x2="1712.95" y2="612.39"/><line x1="204.4" y1="732.16" x2="182.9" y2="732.16"/><line x1="1692.6" y1="732.16" x2="1712.95" y2="732.16"/><line x1="204.4" y1="825.06" x2="182.9" y2="825.06"/><line x1="1692.6" y1="825.06" x2="1712.95" y2="825.06"/><line x1="204.4" y1="900.97" x2="182.9" y2="900.97"/><line x1="1692.6" y1="900.97" x2="1712.95" y2="900.97"/><line x1="204.4" y1="965.15" x2="182.9" y2="965.15"/><line x1="1692.6" y1="965.15" x2="1712.95" y2="965.15"/><line x1="204.4" y1="1020.74" x2="182.9" y2="1020.74"/><line x1="1692.6" y1="1020.74" x2="1712.95" y2="1020.74"/></g>
<g filter="url(#ga)" fill="#fff" font-family="DejaVu Sans, sans-serif">
<g font-size="41.67px"><text x="167.3" y="172" text-anchor="end">50</text><text x="167.3" y="248" text-anchor="end">60</text><text x="167.3" y="312" text-anchor="end">70</text><text x="167.3" y="367" text-anchor="end">80</text><text x="167.3" y="416" text-anchor="end">90</text><text x="167.3" y="460" text-anchor="end">100</text><text x="167.3" y="629" text-anchor="end">150</text><text x="167.3" y="749" text-anchor="end">200</text><text x="167.3" y="842" text-anchor="end">250</text><text x="167.3" y="918" text-anchor="end">300</text><text x="167.3" y="982" text-anchor="end">350</text><text x="167.3" y="1037" text-anchor="end">400</text><text x="204" y="1128" text-anchor="middle">05:30</text><text x="501.39" y="1128" text-anchor="middle">05:33</text><text x="798.78" y="1128" text-anchor="middle">05:36</text><text x="1096.17" y="1128" text-anchor="middle">05:39</text><text x="1393.56" y="1128" text-anchor="middle">05:42</text><text x="1690.95" y="1128" text-anchor="middle">05:45</text>
<text x="948" y="1188.4" text-anchor="middle">Time [UTC]</text>
<text transform="translate(62 585.6) rotate(-90)" text-anchor="middle">Frequency [MHz]</text>
</g>
<text x="947.8" y="68.2" text-anchor="middle" font-size="50px">2023-02-01 Radio flux density, e-CALLISTO (HUMAIN)</text>
<g fill="#fff"><polygon points="252.20,1145.60 253.59,1149.59 257.81,1149.68 254.44,1152.23 255.67,1156.27 252.20,1153.86 248.73,1156.27 249.96,1152.23 246.59,1149.68 250.81,1149.59"/><polygon points="217.20,1164.80 218.59,1168.79 222.81,1168.88 219.44,1171.43 220.67,1175.47 217.20,1173.06 213.73,1175.47 214.96,1171.43 211.59,1168.88 215.81,1168.79"/><polygon points="234.70,1164.80 236.09,1168.79 240.31,1168.88 236.94,1171.43 238.17,1175.47 234.70,1173.06 231.23,1175.47 232.46,1171.43 229.09,1168.88 233.31,1168.79"/><polygon points="252.20,1164.80 253.59,1168.79 257.81,1168.88 254.44,1171.43 255.67,1175.47 252.20,1173.06 248.73,1175.47 249.96,1171.43 246.59,1168.88 250.81,1168.79"/><polygon points="269.60,1164.80 270.99,1168.79 275.21,1168.88 271.84,1171.43 273.07,1175.47 269.60,1173.06 266.13,1175.47 267.36,1171.43 263.99,1168.88 268.21,1168.79"/><polygon points="287.10,1164.80 288.49,1168.79 292.71,1168.88 289.34,1171.43 290.57,1175.47 287.10,1173.06 283.63,1175.47 284.86,1171.43 281.49,1168.88 285.71,1168.79"/><polygon points="225.90,1183.70 227.29,1187.69 231.51,1187.78 228.14,1190.33 229.37,1194.37 225.90,1191.96 222.43,1194.37 223.66,1190.33 220.29,1187.78 224.51,1187.69"/><polygon points="243.50,1183.70 244.89,1187.69 249.11,1187.78 245.74,1190.33 246.97,1194.37 243.50,1191.96 240.03,1194.37 241.26,1190.33 237.89,1187.78 242.11,1187.69"/><polygon points="260.90,1183.70 262.29,1187.69 266.51,1187.78 263.14,1190.33 264.37,1194.37 260.90,1191.96 257.43,1194.37 258.66,1190.33 255.29,1187.78 259.51,1187.69"/><polygon points="278.30,1183.70 279.69,1187.69 283.91,1187.78 280.54,1190.33 281.77,1194.37 278.30,1191.96 274.83,1194.37 276.06,1190.33 272.69,1187.78 276.91,1187.69"/></g>
<g font-family="Liberation Sans, Arial, sans-serif" font-size="14.4px" letter-spacing="1.35">
<text x="313" y="1167.8">Royal Observatory</text>
<text x="313.3" y="1188.3" font-style="italic">of</text>
<text x="337" y="1188.3">Belgium</text>
</g>
</g>
</svg>
</body></html>
